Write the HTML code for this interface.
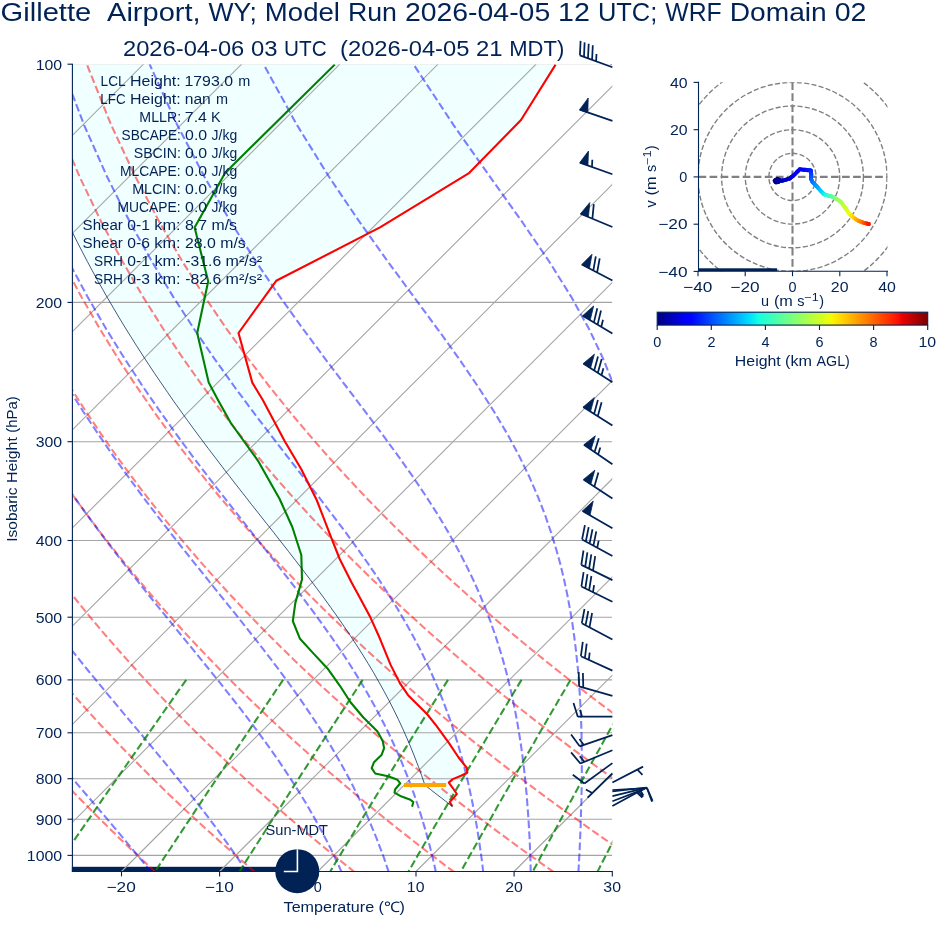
<!DOCTYPE html><html><head><meta charset="utf-8"><title>Skew-T</title><style>html,body{margin:0;padding:0;background:#fff}svg{display:block;will-change:transform}</style></head><body><svg width="936" height="936" viewBox="0 0 936 936" font-family="'Liberation Sans', sans-serif">
<defs><clipPath id="ax"><rect x="72.4" y="64.2" width="539.9" height="807.3"/></clipPath>
<clipPath id="hod"><rect x="698.5" y="82.3" width="189.0" height="189.0"/></clipPath>
<linearGradient id="jet" x1="0" x2="1" y1="0" y2="0"><stop offset="0.0000" stop-color="#000080"/><stop offset="0.0156" stop-color="#000092"/><stop offset="0.0312" stop-color="#0000a4"/><stop offset="0.0469" stop-color="#0000b6"/><stop offset="0.0625" stop-color="#0000c8"/><stop offset="0.0781" stop-color="#0000da"/><stop offset="0.0938" stop-color="#0000ed"/><stop offset="0.1094" stop-color="#0000ff"/><stop offset="0.1250" stop-color="#0001ff"/><stop offset="0.1406" stop-color="#0011ff"/><stop offset="0.1562" stop-color="#0021ff"/><stop offset="0.1719" stop-color="#0031ff"/><stop offset="0.1875" stop-color="#0041ff"/><stop offset="0.2031" stop-color="#0051ff"/><stop offset="0.2188" stop-color="#0061ff"/><stop offset="0.2344" stop-color="#0071ff"/><stop offset="0.2500" stop-color="#0081ff"/><stop offset="0.2656" stop-color="#0091ff"/><stop offset="0.2812" stop-color="#00a1ff"/><stop offset="0.2969" stop-color="#00b1ff"/><stop offset="0.3125" stop-color="#00c1ff"/><stop offset="0.3281" stop-color="#00d1ff"/><stop offset="0.3438" stop-color="#00e1fb"/><stop offset="0.3594" stop-color="#09f1ee"/><stop offset="0.3750" stop-color="#16ffe1"/><stop offset="0.3906" stop-color="#23ffd4"/><stop offset="0.4062" stop-color="#30ffc7"/><stop offset="0.4219" stop-color="#3cffba"/><stop offset="0.4375" stop-color="#49ffad"/><stop offset="0.4531" stop-color="#56ffa0"/><stop offset="0.4688" stop-color="#63ff94"/><stop offset="0.4844" stop-color="#70ff87"/><stop offset="0.5000" stop-color="#7dff7a"/><stop offset="0.5156" stop-color="#8aff6d"/><stop offset="0.5312" stop-color="#97ff60"/><stop offset="0.5469" stop-color="#a4ff53"/><stop offset="0.5625" stop-color="#b1ff46"/><stop offset="0.5781" stop-color="#beff39"/><stop offset="0.5938" stop-color="#caff2c"/><stop offset="0.6094" stop-color="#d7ff1f"/><stop offset="0.6250" stop-color="#e4ff13"/><stop offset="0.6406" stop-color="#f1fc06"/><stop offset="0.6562" stop-color="#feed00"/><stop offset="0.6719" stop-color="#ffde00"/><stop offset="0.6875" stop-color="#ffd000"/><stop offset="0.7031" stop-color="#ffc100"/><stop offset="0.7188" stop-color="#ffb200"/><stop offset="0.7344" stop-color="#ffa300"/><stop offset="0.7500" stop-color="#ff9400"/><stop offset="0.7656" stop-color="#ff8600"/><stop offset="0.7812" stop-color="#ff7700"/><stop offset="0.7969" stop-color="#ff6800"/><stop offset="0.8125" stop-color="#ff5900"/><stop offset="0.8281" stop-color="#ff4a00"/><stop offset="0.8438" stop-color="#ff3b00"/><stop offset="0.8594" stop-color="#ff2d00"/><stop offset="0.8750" stop-color="#ff1e00"/><stop offset="0.8906" stop-color="#fa0f00"/><stop offset="0.9062" stop-color="#e80000"/><stop offset="0.9219" stop-color="#d60000"/><stop offset="0.9375" stop-color="#c40000"/><stop offset="0.9531" stop-color="#b20000"/><stop offset="0.9688" stop-color="#9f0000"/><stop offset="0.9844" stop-color="#8d0000"/><stop offset="1.0000" stop-color="#800000"/></linearGradient>
</defs>
<rect width="936" height="936" fill="#ffffff"/>
<rect x="71.9" y="866.8" width="225.4" height="5.2" fill="#002255"/>
<g clip-path="url(#ax)">
<polygon points="6.3,64.6 6.8,66.5 7.4,68.3 8.0,70.2 8.5,72.0 9.1,73.9 9.7,75.8 10.3,77.6 10.9,79.5 11.5,81.3 12.0,83.2 12.6,85.0 13.2,86.9 13.8,88.8 14.5,90.6 15.1,92.5 15.7,94.3 16.3,96.2 16.9,98.1 17.5,99.9 18.2,101.8 18.8,103.6 19.5,105.5 20.1,107.3 20.7,109.2 21.4,111.1 22.0,112.9 22.7,114.8 23.4,116.6 24.0,118.5 24.7,120.4 25.4,122.2 26.0,124.1 26.7,125.9 27.4,127.8 28.1,129.6 28.8,131.5 29.5,133.4 30.2,135.2 30.9,137.1 31.6,138.9 32.3,140.8 33.0,142.7 33.8,144.5 34.5,146.4 35.2,148.2 35.9,150.1 36.7,151.9 37.4,153.8 38.2,155.7 38.9,157.5 39.7,159.4 40.4,161.2 41.2,163.1 41.9,165.0 42.7,166.8 43.5,168.7 44.3,170.5 45.0,172.4 45.8,174.2 46.6,176.1 47.4,178.0 48.2,179.8 49.0,181.7 49.8,183.5 50.6,185.4 51.4,187.3 52.3,189.1 53.1,191.0 53.9,192.8 54.7,194.7 55.6,196.5 56.4,198.4 57.3,200.3 58.1,202.1 58.9,204.0 59.8,205.8 60.7,207.7 61.5,209.6 62.4,211.4 63.3,213.3 64.1,215.1 65.0,217.0 65.9,218.8 66.8,220.7 67.7,222.6 68.6,224.4 69.5,226.3 70.4,228.1 71.3,230.0 72.2,231.9 73.1,233.7 74.1,235.6 75.0,237.4 75.9,239.3 76.9,241.1 77.8,243.0 78.7,244.9 79.7,246.7 80.6,248.6 81.6,250.4 82.5,252.3 83.5,254.2 84.5,256.0 85.5,257.9 86.4,259.7 87.4,261.6 88.4,263.4 89.4,265.3 90.4,267.2 91.4,269.0 92.4,270.9 93.4,272.7 94.4,274.6 95.5,276.5 96.5,278.3 97.5,280.2 98.5,282.0 99.6,283.9 100.6,285.7 101.6,287.6 102.7,289.5 103.7,291.3 104.8,293.2 105.9,295.0 106.9,296.9 108.0,298.8 109.1,300.6 110.2,302.5 111.2,304.3 112.3,306.2 113.4,308.0 114.5,309.9 115.6,311.8 116.7,313.6 117.8,315.5 118.9,317.3 120.1,319.2 121.2,321.1 122.3,322.9 123.4,324.8 124.6,326.6 125.7,328.5 126.9,330.4 128.0,332.2 129.2,334.1 130.3,335.9 131.5,337.8 132.7,339.6 133.8,341.5 135.0,343.4 136.2,345.2 137.4,347.1 138.6,348.9 139.8,350.8 141.0,352.7 142.1,354.5 143.4,356.4 144.6,358.2 145.8,360.1 147.0,361.9 148.2,363.8 149.5,365.7 150.7,367.5 151.9,369.4 153.2,371.2 154.4,373.1 155.7,375.0 156.9,376.8 158.2,378.7 159.4,380.5 160.7,382.4 162.0,384.2 163.2,386.1 164.5,388.0 165.8,389.8 167.1,391.7 168.4,393.5 169.7,395.4 171.0,397.3 172.3,399.1 173.6,401.0 174.9,402.8 176.2,404.7 177.5,406.5 178.9,408.4 180.2,410.3 181.5,412.1 182.8,414.0 184.2,415.8 185.5,417.7 186.9,419.6 188.2,421.4 189.6,423.3 190.9,425.1 192.3,427.0 193.6,428.8 195.0,430.7 196.4,432.6 197.8,434.4 199.1,436.3 200.5,438.1 201.9,440.0 203.3,441.9 204.7,443.7 206.1,445.6 207.5,447.4 208.9,449.3 210.3,451.1 211.7,453.0 213.1,454.9 214.5,456.7 215.9,458.6 217.3,460.4 218.8,462.3 220.2,464.2 221.6,466.0 223.0,467.9 224.5,469.7 225.9,471.6 227.3,473.4 228.8,475.3 230.2,477.2 231.6,479.0 233.1,480.9 234.5,482.7 236.0,484.6 237.4,486.5 238.9,488.3 240.3,490.2 241.8,492.0 243.2,493.9 244.7,495.7 246.2,497.6 247.6,499.5 249.1,501.3 250.5,503.2 252.0,505.0 253.5,506.9 254.9,508.8 256.4,510.6 257.9,512.5 259.3,514.3 260.8,516.2 262.3,518.0 263.7,519.9 265.2,521.8 266.7,523.6 268.1,525.5 269.6,527.3 271.1,529.2 272.5,531.1 274.0,532.9 275.5,534.8 276.9,536.6 278.4,538.5 279.8,540.3 281.3,542.2 282.8,544.1 284.2,545.9 285.7,547.8 287.1,549.6 288.6,551.5 290.0,553.4 291.5,555.2 292.9,557.1 294.3,558.9 295.8,560.8 297.2,562.7 298.7,564.5 300.1,566.4 301.5,568.2 303.0,570.1 304.4,571.9 305.8,573.8 307.2,575.7 308.6,577.5 310.0,579.4 311.4,581.2 312.8,583.1 314.2,585.0 315.6,586.8 317.0,588.7 318.4,590.5 319.8,592.4 321.1,594.2 322.5,596.1 323.9,598.0 325.2,599.8 326.6,601.7 327.9,603.5 329.3,605.4 330.6,607.3 332.0,609.1 333.3,611.0 334.6,612.8 335.9,614.7 337.2,616.5 338.5,618.4 339.8,620.3 341.1,622.1 342.4,624.0 343.7,625.8 345.0,627.7 346.2,629.6 347.5,631.4 348.7,633.3 350.0,635.1 351.2,637.0 352.4,638.8 353.7,640.7 354.9,642.6 356.1,644.4 357.3,646.3 358.5,648.1 359.7,650.0 360.8,651.9 362.0,653.7 363.2,655.6 364.3,657.4 365.5,659.3 366.6,661.1 367.8,663.0 368.9,664.9 370.0,666.7 371.1,668.6 372.2,670.4 373.3,672.3 374.4,674.2 375.5,676.0 376.6,677.9 377.6,679.7 378.7,681.6 379.7,683.4 380.8,685.3 381.8,687.2 382.8,689.0 383.8,690.9 384.8,692.7 385.8,694.6 386.8,696.5 387.8,698.3 388.8,700.2 389.7,702.0 390.7,703.9 391.6,705.7 392.6,707.6 393.5,709.5 394.5,711.3 395.4,713.2 396.3,715.0 397.2,716.9 398.1,718.8 399.0,720.6 399.8,722.5 400.7,724.3 401.6,726.2 402.4,728.0 403.3,729.9 404.1,731.8 404.9,733.6 405.7,735.5 406.6,737.3 407.4,739.2 408.2,741.1 408.9,742.9 409.7,744.8 410.5,746.6 411.3,748.5 412.0,750.3 412.8,752.2 413.5,754.1 414.3,755.9 415.0,757.8 415.7,759.6 416.4,761.5 417.1,763.4 417.8,765.2 418.5,767.1 419.2,768.9 419.9,770.8 420.6,772.6 421.2,774.5 421.9,776.4 422.5,778.2 423.2,780.1 423.8,781.9 424.5,783.8 425.7,785.7 428.1,787.5 430.4,789.4 432.8,791.2 435.1,793.1 437.5,794.9 439.9,796.8 442.3,798.7 444.7,800.5 447.1,802.4 449.5,804.2 451.9,806.1 452.3,806.1 451.1,804.2 449.9,802.4 451.1,800.5 452.8,798.7 454.5,796.8 456.0,794.9 456.2,793.1 455.0,791.2 453.7,789.4 452.4,787.5 451.1,785.7 449.7,783.8 449.6,781.9 451.7,780.1 455.0,778.2 459.6,776.4 463.7,774.5 467.3,772.6 467.1,770.8 467.0,768.9 466.2,767.1 464.7,765.2 463.2,763.4 461.8,761.5 460.3,759.6 458.8,757.8 457.5,755.9 456.3,754.1 455.1,752.2 453.8,750.3 452.6,748.5 451.4,746.6 450.1,744.8 448.8,742.9 447.5,741.1 446.1,739.2 444.8,737.3 443.4,735.5 442.1,733.6 440.7,731.8 439.4,729.9 438.0,728.0 436.7,726.2 435.2,724.3 433.7,722.5 432.3,720.6 430.8,718.8 429.3,716.9 427.8,715.0 426.2,713.2 424.3,711.3 422.4,709.5 420.6,707.6 418.7,705.7 416.8,703.9 415.0,702.0 413.1,700.2 411.2,698.3 409.4,696.5 407.7,694.6 406.4,692.7 405.1,690.9 403.9,689.0 402.6,687.2 401.3,685.3 400.0,683.4 399.1,681.6 398.1,679.7 397.2,677.9 396.3,676.0 395.3,674.2 394.4,672.3 393.4,670.4 392.5,668.6 391.6,666.7 390.6,664.9 389.9,663.0 389.1,661.1 388.3,659.3 387.6,657.4 386.8,655.6 386.1,653.7 385.3,651.9 384.6,650.0 383.8,648.1 383.0,646.3 382.3,644.4 381.5,642.6 380.8,640.7 380.0,638.8 379.2,637.0 378.4,635.1 377.5,633.3 376.7,631.4 375.9,629.6 375.0,627.7 374.2,625.8 373.4,624.0 372.5,622.1 371.7,620.3 370.9,618.4 369.9,616.5 368.9,614.7 368.0,612.8 367.0,611.0 366.0,609.1 365.0,607.3 364.0,605.4 363.0,603.5 362.0,601.7 361.0,599.8 360.0,598.0 359.0,596.1 358.0,594.2 357.0,592.4 355.9,590.5 354.9,588.7 353.9,586.8 352.9,585.0 351.9,583.1 350.9,581.2 350.0,579.4 349.0,577.5 348.1,575.7 347.2,573.8 346.2,571.9 345.3,570.1 344.4,568.2 343.4,566.4 342.5,564.5 341.5,562.7 340.6,560.8 339.7,558.9 338.9,557.1 338.2,555.2 337.4,553.4 336.7,551.5 336.0,549.6 335.2,547.8 334.5,545.9 333.7,544.1 333.0,542.2 332.3,540.3 331.5,538.5 330.8,536.6 330.1,534.8 329.4,532.9 328.7,531.1 328.0,529.2 327.2,527.3 326.5,525.5 325.8,523.6 325.1,521.8 324.4,519.9 323.7,518.0 322.9,516.2 322.2,514.3 321.5,512.5 320.8,510.6 320.1,508.8 319.4,506.9 318.6,505.0 317.9,503.2 317.2,501.3 316.4,499.5 315.5,497.6 314.6,495.7 313.6,493.9 312.7,492.0 311.8,490.2 310.9,488.3 309.9,486.5 309.0,484.6 308.1,482.7 307.1,480.9 306.2,479.0 305.3,477.2 304.4,475.3 303.4,473.4 302.5,471.6 301.6,469.7 300.5,467.9 299.4,466.0 298.3,464.2 297.2,462.3 296.1,460.4 295.0,458.6 293.9,456.7 292.8,454.9 291.7,453.0 290.6,451.1 289.5,449.3 288.4,447.4 287.3,445.6 286.2,443.7 285.1,441.9 284.1,440.0 283.1,438.1 282.1,436.3 281.1,434.4 280.1,432.6 279.1,430.7 278.1,428.8 277.1,427.0 276.2,425.1 275.2,423.3 274.2,421.4 273.2,419.6 272.2,417.7 271.2,415.8 270.2,414.0 269.2,412.1 268.3,410.3 267.3,408.4 266.3,406.5 265.3,404.7 264.3,402.8 263.3,401.0 262.3,399.1 261.1,397.3 260.0,395.4 258.9,393.5 257.8,391.7 256.7,389.8 255.5,388.0 254.4,386.1 253.3,384.2 252.2,382.4 251.7,380.5 251.2,378.7 250.7,376.8 250.2,375.0 249.7,373.1 249.1,371.2 248.6,369.4 248.1,367.5 247.6,365.7 247.1,363.8 246.6,361.9 246.0,360.1 245.5,358.2 245.0,356.4 244.5,354.5 244.0,352.7 243.5,350.8 242.9,348.9 242.4,347.1 241.9,345.2 241.4,343.4 240.9,341.5 240.3,339.6 239.8,337.8 239.3,335.9 238.8,334.1 239.1,332.2 240.4,330.4 241.8,328.5 243.1,326.6 244.4,324.8 245.8,322.9 247.1,321.1 248.5,319.2 249.8,317.3 251.2,315.5 252.5,313.6 253.8,311.8 255.2,309.9 256.5,308.0 257.9,306.2 259.2,304.3 260.5,302.5 261.9,300.6 263.2,298.8 264.6,296.9 265.9,295.0 267.3,293.2 268.6,291.3 269.9,289.5 271.3,287.6 272.6,285.7 274.0,283.9 275.3,282.0 277.4,280.2 281.0,278.3 284.6,276.5 288.3,274.6 291.9,272.7 295.5,270.9 299.1,269.0 302.7,267.2 306.3,265.3 309.9,263.4 313.5,261.6 317.2,259.7 320.8,257.9 324.4,256.0 328.0,254.2 331.6,252.3 335.2,250.4 338.8,248.6 342.4,246.7 346.1,244.9 349.7,243.0 353.3,241.1 356.9,239.3 360.5,237.4 364.1,235.6 367.7,233.7 371.3,231.9 375.0,230.0 378.6,228.1 381.8,226.3 384.9,224.4 387.9,222.6 391.0,220.7 394.0,218.8 397.1,217.0 400.1,215.1 403.2,213.3 406.2,211.4 409.3,209.6 412.3,207.7 415.4,205.8 418.4,204.0 421.5,202.1 424.5,200.3 427.6,198.4 430.6,196.5 433.7,194.7 436.7,192.8 439.8,191.0 442.8,189.1 445.9,187.3 448.9,185.4 452.0,183.5 455.0,181.7 458.1,179.8 461.1,178.0 464.2,176.1 467.2,174.2 469.6,172.4 471.4,170.5 473.2,168.7 475.1,166.8 476.9,165.0 478.7,163.1 480.5,161.2 482.4,159.4 484.2,157.5 486.0,155.7 487.8,153.8 489.7,151.9 491.5,150.1 493.3,148.2 495.1,146.4 496.9,144.5 498.8,142.7 500.6,140.8 502.4,138.9 504.2,137.1 506.1,135.2 507.9,133.4 509.7,131.5 511.5,129.6 513.4,127.8 515.2,125.9 517.0,124.1 518.8,122.2 520.7,120.4 521.9,118.5 523.1,116.6 524.3,114.8 525.4,112.9 526.6,111.1 527.7,109.2 528.9,107.3 530.1,105.5 531.2,103.6 532.4,101.8 533.5,99.9 534.7,98.1 535.9,96.2 537.0,94.3 538.2,92.5 539.4,90.6 540.5,88.8 541.7,86.9 542.8,85.0 544.0,83.2 545.2,81.3 546.3,79.5 547.5,77.6 548.6,75.8 549.8,73.9 551.0,72.0 552.1,70.2 553.3,68.3 554.4,66.5 555.6,64.6" fill="#f0ffff"/>
<line x1="72.4" x2="612.3" y1="64.2" y2="64.2" stroke="#a4a4a4" stroke-width="1.1" stroke-opacity="0.3"/>
<line x1="72.4" x2="612.3" y1="302.4" y2="302.4" stroke="#a4a4a4" stroke-width="1.1"/>
<line x1="72.4" x2="612.3" y1="441.7" y2="441.7" stroke="#a4a4a4" stroke-width="1.1"/>
<line x1="72.4" x2="612.3" y1="540.5" y2="540.5" stroke="#a4a4a4" stroke-width="1.1"/>
<line x1="72.4" x2="612.3" y1="617.2" y2="617.2" stroke="#a4a4a4" stroke-width="1.1"/>
<line x1="72.4" x2="612.3" y1="679.9" y2="679.9" stroke="#a4a4a4" stroke-width="1.1"/>
<line x1="72.4" x2="612.3" y1="732.8" y2="732.8" stroke="#a4a4a4" stroke-width="1.1"/>
<line x1="72.4" x2="612.3" y1="778.7" y2="778.7" stroke="#a4a4a4" stroke-width="1.1"/>
<line x1="72.4" x2="612.3" y1="819.2" y2="819.2" stroke="#a4a4a4" stroke-width="1.1"/>
<line x1="72.4" x2="612.3" y1="855.4" y2="855.4" stroke="#a4a4a4" stroke-width="1.1"/>
<line x1="-860.2" y1="871.5" x2="-52.9" y2="64.2" stroke="#a4a4a4" stroke-width="1.1"/>
<line x1="-762.0" y1="871.5" x2="45.3" y2="64.2" stroke="#a4a4a4" stroke-width="1.1"/>
<line x1="-663.8" y1="871.5" x2="143.5" y2="64.2" stroke="#a4a4a4" stroke-width="1.1"/>
<line x1="-565.7" y1="871.5" x2="241.6" y2="64.2" stroke="#a4a4a4" stroke-width="1.1"/>
<line x1="-467.5" y1="871.5" x2="339.8" y2="64.2" stroke="#a4a4a4" stroke-width="1.1"/>
<line x1="-369.3" y1="871.5" x2="438.0" y2="64.2" stroke="#a4a4a4" stroke-width="1.1"/>
<line x1="-271.2" y1="871.5" x2="536.1" y2="64.2" stroke="#a4a4a4" stroke-width="1.1"/>
<line x1="-173.0" y1="871.5" x2="634.3" y2="64.2" stroke="#a4a4a4" stroke-width="1.1"/>
<line x1="-74.8" y1="871.5" x2="732.5" y2="64.2" stroke="#a4a4a4" stroke-width="1.1"/>
<line x1="23.3" y1="871.5" x2="830.6" y2="64.2" stroke="#a4a4a4" stroke-width="1.1"/>
<line x1="121.5" y1="871.5" x2="928.8" y2="64.2" stroke="#a4a4a4" stroke-width="1.1"/>
<line x1="219.6" y1="871.5" x2="1026.9" y2="64.2" stroke="#a4a4a4" stroke-width="1.1"/>
<line x1="317.8" y1="871.5" x2="1125.1" y2="64.2" stroke="#a4a4a4" stroke-width="1.1"/>
<line x1="416.0" y1="871.5" x2="1223.3" y2="64.2" stroke="#a4a4a4" stroke-width="1.1"/>
<line x1="514.1" y1="871.5" x2="1321.4" y2="64.2" stroke="#a4a4a4" stroke-width="1.1"/>
<line x1="612.3" y1="871.5" x2="1419.6" y2="64.2" stroke="#a4a4a4" stroke-width="1.1"/>
<polyline points="-43.4,872.2 -49.3,865.8 -55.3,859.2 -61.3,852.6 -67.3,845.8 -73.4,838.9 -79.6,831.8 -85.8,824.6 -92.1,817.2 -98.4,809.7 -104.7,802.0 -111.1,794.2 -117.6,786.1 -124.1,777.8 -130.7,769.4 -137.3,760.7 -144.0,751.8 -150.8,742.7 -157.6,733.3 -164.4,723.7 -171.4,713.8 -178.4,703.6 -185.4,693.1 -192.5,682.2 -199.7,671.0 -206.9,659.4 -214.2,647.4 -221.6,635.0 -229.0,622.1 -236.5,608.7 -244.0,594.8 -251.6,580.2 -259.3,565.1 -267.0,549.2 -274.7,532.6 -282.5,515.1 -290.3,496.7 -298.1,477.2 -305.9,456.6 -313.6,434.6 -321.3,411.2 -328.9,386.0 -336.4,358.8 -343.6,329.3 -350.4,297.1 -356.8,261.5 -362.4,221.7 -367.1,176.8 -370.1,125.1 -370.8,64.2" fill="none" stroke="#ff0000" stroke-opacity="0.5" stroke-width="2.08" stroke-dasharray="7.71 3.33"/>
<polyline points="56.2,872.2 49.7,865.8 43.2,859.2 36.7,852.6 30.0,845.8 23.4,838.9 16.7,831.8 9.9,824.6 3.0,817.2 -3.9,809.7 -10.8,802.0 -17.8,794.2 -24.9,786.1 -32.1,777.8 -39.3,769.4 -46.6,760.7 -54.0,751.8 -61.4,742.7 -68.9,733.3 -76.5,723.7 -84.1,713.8 -91.8,703.6 -99.6,693.1 -107.5,682.2 -115.5,671.0 -123.5,659.4 -131.7,647.4 -139.9,635.0 -148.2,622.1 -156.5,608.7 -165.0,594.8 -173.6,580.2 -182.2,565.1 -190.9,549.2 -199.7,532.6 -208.5,515.1 -217.4,496.7 -226.4,477.2 -235.4,456.6 -244.5,434.6 -253.5,411.2 -262.5,386.0 -271.4,358.8 -280.2,329.3 -288.7,297.1 -296.9,261.5 -304.5,221.7 -311.2,176.8 -316.7,125.1 -320.0,64.2" fill="none" stroke="#ff0000" stroke-opacity="0.5" stroke-width="2.08" stroke-dasharray="7.71 3.33"/>
<polyline points="155.7,872.2 148.7,865.8 141.7,859.2 134.6,852.6 127.4,845.8 120.2,838.9 112.9,831.8 105.6,824.6 98.1,817.2 90.6,809.7 83.1,802.0 75.4,794.2 67.7,786.1 59.9,777.8 52.1,769.4 44.1,760.7 36.1,751.8 28.0,742.7 19.8,733.3 11.5,723.7 3.2,713.8 -5.3,703.6 -13.9,693.1 -22.5,682.2 -31.3,671.0 -40.1,659.4 -49.1,647.4 -58.1,635.0 -67.3,622.1 -76.6,608.7 -86.0,594.8 -95.5,580.2 -105.1,565.1 -114.8,549.2 -124.6,532.6 -134.6,515.1 -144.6,496.7 -154.7,477.2 -165.0,456.6 -175.3,434.6 -185.7,411.2 -196.1,386.0 -206.5,358.8 -216.8,329.3 -227.0,297.1 -237.0,261.5 -246.5,221.7 -255.4,176.8 -263.2,125.1 -269.1,64.2" fill="none" stroke="#ff0000" stroke-opacity="0.5" stroke-width="2.08" stroke-dasharray="7.71 3.33"/>
<polyline points="255.2,872.2 247.7,865.8 240.2,859.2 232.5,852.6 224.8,845.8 217.0,838.9 209.2,831.8 201.2,824.6 193.2,817.2 185.1,809.7 177.0,802.0 168.7,794.2 160.4,786.1 152.0,777.8 143.5,769.4 134.9,760.7 126.2,751.8 117.4,742.7 108.5,733.3 99.5,723.7 90.4,713.8 81.2,703.6 71.9,693.1 62.5,682.2 52.9,671.0 43.3,659.4 33.5,647.4 23.6,635.0 13.5,622.1 3.4,608.7 -6.9,594.8 -17.4,580.2 -28.0,565.1 -38.7,549.2 -49.6,532.6 -60.6,515.1 -71.8,496.7 -83.1,477.2 -94.5,456.6 -106.1,434.6 -117.8,411.2 -129.6,386.0 -141.5,358.8 -153.4,329.3 -165.3,297.1 -177.1,261.5 -188.6,221.7 -199.6,176.8 -209.7,125.1 -218.3,64.2" fill="none" stroke="#ff0000" stroke-opacity="0.5" stroke-width="2.08" stroke-dasharray="7.71 3.33"/>
<polyline points="354.8,872.2 346.7,865.8 338.6,859.2 330.5,852.6 322.2,845.8 313.8,838.9 305.4,831.8 296.9,824.6 288.3,817.2 279.7,809.7 270.9,802.0 262.0,794.2 253.1,786.1 244.0,777.8 234.9,769.4 225.6,760.7 216.2,751.8 206.8,742.7 197.2,733.3 187.5,723.7 177.7,713.8 167.7,703.6 157.7,693.1 147.5,682.2 137.1,671.0 126.7,659.4 116.1,647.4 105.3,635.0 94.4,622.1 83.3,608.7 72.1,594.8 60.7,580.2 49.1,565.1 37.4,549.2 25.5,532.6 13.4,515.1 1.1,496.7 -11.4,477.2 -24.1,456.6 -36.9,434.6 -50.0,411.2 -63.2,386.0 -76.5,358.8 -90.0,329.3 -103.6,297.1 -117.2,261.5 -130.6,221.7 -143.7,176.8 -156.2,125.1 -167.4,64.2" fill="none" stroke="#ff0000" stroke-opacity="0.5" stroke-width="2.08" stroke-dasharray="7.71 3.33"/>
<polyline points="454.3,872.2 445.8,865.8 437.1,859.2 428.4,852.6 419.6,845.8 410.7,838.9 401.7,831.8 392.6,824.6 383.4,817.2 374.2,809.7 364.8,802.0 355.3,794.2 345.7,786.1 336.0,777.8 326.2,769.4 316.3,760.7 306.3,751.8 296.2,742.7 285.9,733.3 275.5,723.7 264.9,713.8 254.3,703.6 243.4,693.1 232.5,682.2 221.4,671.0 210.1,659.4 198.6,647.4 187.0,635.0 175.3,622.1 163.3,608.7 151.1,594.8 138.8,580.2 126.3,565.1 113.5,549.2 100.5,532.6 87.4,515.1 73.9,496.7 60.3,477.2 46.4,456.6 32.3,434.6 17.9,411.2 3.3,386.0 -11.6,358.8 -26.6,329.3 -41.9,297.1 -57.3,261.5 -72.6,221.7 -87.9,176.8 -102.7,125.1 -116.6,64.2" fill="none" stroke="#ff0000" stroke-opacity="0.5" stroke-width="2.08" stroke-dasharray="7.71 3.33"/>
<polyline points="553.9,872.2 544.8,865.8 535.6,859.2 526.3,852.6 517.0,845.8 507.5,838.9 497.9,831.8 488.3,824.6 478.5,817.2 468.7,809.7 458.7,802.0 448.6,794.2 438.4,786.1 428.1,777.8 417.6,769.4 407.1,760.7 396.4,751.8 385.5,742.7 374.6,733.3 363.5,723.7 352.2,713.8 340.8,703.6 329.2,693.1 317.5,682.2 305.6,671.0 293.5,659.4 281.2,647.4 268.8,635.0 256.1,622.1 243.3,608.7 230.2,594.8 216.9,580.2 203.4,565.1 189.6,549.2 175.6,532.6 161.3,515.1 146.8,496.7 132.0,477.2 116.9,456.6 101.5,434.6 85.7,411.2 69.7,386.0 53.4,358.8 36.7,329.3 19.8,297.1 2.7,261.5 -14.7,221.7 -32.1,176.8 -49.2,125.1 -65.8,64.2" fill="none" stroke="#ff0000" stroke-opacity="0.5" stroke-width="2.08" stroke-dasharray="7.71 3.33"/>
<polyline points="653.4,872.2 643.8,865.8 634.1,859.2 624.3,852.6 614.3,845.8 604.3,838.9 594.2,831.8 584.0,824.6 573.6,817.2 563.2,809.7 552.6,802.0 541.9,794.2 531.1,786.1 520.1,777.8 509.0,769.4 497.8,760.7 486.4,751.8 474.9,742.7 463.3,733.3 451.4,723.7 439.5,713.8 427.3,703.6 415.0,693.1 402.5,682.2 389.8,671.0 376.9,659.4 363.8,647.4 350.5,635.0 337.0,622.1 323.2,608.7 309.2,594.8 295.0,580.2 280.5,565.1 265.7,549.2 250.6,532.6 235.3,515.1 219.6,496.7 203.6,477.2 187.3,456.6 170.6,434.6 153.6,411.2 136.2,386.0 118.3,358.8 100.1,329.3 81.5,297.1 62.6,261.5 43.3,221.7 23.8,176.8 4.2,125.1 -14.9,64.2" fill="none" stroke="#ff0000" stroke-opacity="0.5" stroke-width="2.08" stroke-dasharray="7.71 3.33"/>
<polyline points="753.0,872.2 742.8,865.8 732.5,859.2 722.2,852.6 711.7,845.8 701.1,838.9 690.5,831.8 679.6,824.6 668.7,817.2 657.7,809.7 646.5,802.0 635.2,794.2 623.7,786.1 612.1,777.8 600.4,769.4 588.5,760.7 576.5,751.8 564.3,742.7 551.9,733.3 539.4,723.7 526.7,713.8 513.8,703.6 500.7,693.1 487.5,682.2 474.0,671.0 460.3,659.4 446.4,647.4 432.2,635.0 417.8,622.1 403.2,608.7 388.3,594.8 373.1,580.2 357.6,565.1 341.8,549.2 325.7,532.6 309.3,515.1 292.5,496.7 275.3,477.2 257.8,456.6 239.8,434.6 221.4,411.2 202.6,386.0 183.3,358.8 163.5,329.3 143.2,297.1 122.5,261.5 101.2,221.7 79.6,176.8 57.7,125.1 35.9,64.2" fill="none" stroke="#ff0000" stroke-opacity="0.5" stroke-width="2.08" stroke-dasharray="7.71 3.33"/>
<polyline points="852.5,872.2 841.8,865.8 831.0,859.2 820.1,852.6 809.1,845.8 798.0,838.9 786.7,831.8 775.3,824.6 763.8,817.2 752.2,809.7 740.4,802.0 728.5,794.2 716.4,786.1 704.2,777.8 691.8,769.4 679.3,760.7 666.6,751.8 653.7,742.7 640.6,733.3 627.4,723.7 614.0,713.8 600.3,703.6 586.5,693.1 572.5,682.2 558.2,671.0 543.7,659.4 528.9,647.4 513.9,635.0 498.7,622.1 483.1,608.7 467.3,594.8 451.2,580.2 434.7,565.1 417.9,549.2 400.8,532.6 383.2,515.1 365.3,496.7 347.0,477.2 328.2,456.6 309.0,434.6 289.3,411.2 269.0,386.0 248.3,358.8 226.9,329.3 204.9,297.1 182.4,261.5 159.2,221.7 135.4,176.8 111.2,125.1 86.8,64.2" fill="none" stroke="#ff0000" stroke-opacity="0.5" stroke-width="2.08" stroke-dasharray="7.71 3.33"/>
<polyline points="-44.3,872.2 -49.8,865.8 -55.5,859.2 -61.2,852.6 -66.9,845.8 -72.8,838.9 -78.7,831.8 -84.7,824.6 -90.8,817.2 -96.9,809.7 -103.1,802.0 -109.4,794.2 -115.7,786.1 -122.2,777.8 -128.7,769.4 -135.2,760.7 -141.8,751.8 -148.5,742.7 -155.3,733.3 -162.1,723.7 -169.0,713.8 -176.0,703.6 -183.1,693.1 -190.2,682.2 -197.3,671.0 -204.6,659.4 -211.9,647.4 -219.3,635.0 -226.7,622.1 -234.2,608.7 -241.8,594.8 -249.4,580.2 -257.1,565.1 -264.8,549.2 -272.6,532.6 -280.4,515.1 -288.2,496.7 -296.0,477.2 -303.9,456.6 -311.7,434.6 -319.4,411.2 -327.0,386.0 -334.5,358.8 -341.7,329.3 -348.6,297.1 -355.1,261.5 -360.8,221.7 -365.5,176.8 -368.6,125.1 -369.3,64.2" fill="none" stroke="#0000ff" stroke-opacity="0.5" stroke-width="2.08" stroke-dasharray="7.71 3.33"/>
<polyline points="54.0,872.2 48.4,865.8 42.8,859.2 37.0,852.6 31.1,845.8 25.0,838.9 18.9,831.8 12.7,824.6 6.3,817.2 -0.1,809.7 -6.7,802.0 -13.3,794.2 -20.1,786.1 -27.0,777.8 -33.9,769.4 -41.0,760.7 -48.2,751.8 -55.5,742.7 -62.8,733.3 -70.3,723.7 -77.9,713.8 -85.5,703.6 -93.3,693.1 -101.2,682.2 -109.1,671.0 -117.2,659.4 -125.3,647.4 -133.5,635.0 -141.9,622.1 -150.3,608.7 -158.8,594.8 -167.4,580.2 -176.1,565.1 -184.9,549.2 -193.8,532.6 -202.7,515.1 -211.7,496.7 -220.8,477.2 -229.9,456.6 -239.0,434.6 -248.1,411.2 -257.2,386.0 -266.3,358.8 -275.2,329.3 -283.8,297.1 -292.1,261.5 -299.9,221.7 -306.8,176.8 -312.4,125.1 -316.0,64.2" fill="none" stroke="#0000ff" stroke-opacity="0.5" stroke-width="2.08" stroke-dasharray="7.71 3.33"/>
<polyline points="151.2,872.2 146.0,865.8 140.7,859.2 135.3,852.6 129.6,845.8 123.9,838.9 117.9,831.8 111.9,824.6 105.6,817.2 99.2,809.7 92.6,802.0 85.9,794.2 79.0,786.1 72.0,777.8 64.8,769.4 57.4,760.7 49.9,751.8 42.2,742.7 34.4,733.3 26.5,723.7 18.4,713.8 10.1,703.6 1.7,693.1 -6.9,682.2 -15.5,671.0 -24.4,659.4 -33.3,647.4 -42.4,635.0 -51.7,622.1 -61.0,608.7 -70.5,594.8 -80.1,580.2 -89.9,565.1 -99.8,549.2 -109.8,532.6 -119.9,515.1 -130.2,496.7 -140.6,477.2 -151.0,456.6 -161.6,434.6 -172.2,411.2 -182.9,386.0 -193.6,358.8 -204.2,329.3 -214.8,297.1 -225.1,261.5 -235.0,221.7 -244.3,176.8 -252.6,125.1 -259.1,64.2" fill="none" stroke="#0000ff" stroke-opacity="0.5" stroke-width="2.08" stroke-dasharray="7.71 3.33"/>
<polyline points="247.0,872.2 242.8,865.8 238.4,859.2 233.8,852.6 229.1,845.8 224.1,838.9 219.0,831.8 213.7,824.6 208.1,817.2 202.4,809.7 196.4,802.0 190.2,794.2 183.8,786.1 177.2,777.8 170.3,769.4 163.2,760.7 155.8,751.8 148.2,742.7 140.4,733.3 132.3,723.7 124.0,713.8 115.5,703.6 106.7,693.1 97.8,682.2 88.5,671.0 79.1,659.4 69.4,647.4 59.6,635.0 49.5,622.1 39.2,608.7 28.7,594.8 18.0,580.2 7.2,565.1 -3.9,549.2 -15.2,532.6 -26.6,515.1 -38.3,496.7 -50.1,477.2 -62.1,456.6 -74.2,434.6 -86.5,411.2 -99.0,386.0 -111.6,358.8 -124.2,329.3 -136.9,297.1 -149.4,261.5 -161.8,221.7 -173.8,176.8 -185.0,125.1 -194.8,64.2" fill="none" stroke="#0000ff" stroke-opacity="0.5" stroke-width="2.08" stroke-dasharray="7.71 3.33"/>
<polyline points="341.6,872.2 338.8,865.8 335.7,859.2 332.6,852.6 329.2,845.8 325.7,838.9 322.0,831.8 318.1,824.6 314.0,817.2 309.7,809.7 305.2,802.0 300.4,794.2 295.3,786.1 290.0,777.8 284.4,769.4 278.6,760.7 272.4,751.8 265.8,742.7 259.0,733.3 251.8,723.7 244.3,713.8 236.4,703.6 228.1,693.1 219.5,682.2 210.4,671.0 201.0,659.4 191.3,647.4 181.1,635.0 170.6,622.1 159.7,608.7 148.5,594.8 136.9,580.2 125.0,565.1 112.7,549.2 100.1,532.6 87.2,515.1 74.0,496.7 60.6,477.2 46.8,456.6 32.7,434.6 18.4,411.2 3.8,386.0 -11.0,358.8 -26.1,329.3 -41.4,297.1 -56.7,261.5 -72.2,221.7 -87.4,176.8 -102.3,125.1 -116.2,64.2" fill="none" stroke="#0000ff" stroke-opacity="0.5" stroke-width="2.08" stroke-dasharray="7.71 3.33"/>
<polyline points="388.8,872.2 386.6,865.8 384.4,859.2 382.0,852.6 379.4,845.8 376.8,838.9 373.9,831.8 370.9,824.6 367.8,817.2 364.4,809.7 360.8,802.0 357.0,794.2 353.0,786.1 348.7,777.8 344.2,769.4 339.3,760.7 334.2,751.8 328.8,742.7 323.0,733.3 316.8,723.7 310.2,713.8 303.3,703.6 295.9,693.1 288.1,682.2 279.8,671.0 271.1,659.4 261.8,647.4 252.1,635.0 241.9,622.1 231.2,608.7 219.9,594.8 208.2,580.2 196.1,565.1 183.4,549.2 170.3,532.6 156.8,515.1 142.8,496.7 128.5,477.2 113.7,456.6 98.5,434.6 83.0,411.2 67.1,386.0 50.9,358.8 34.4,329.3 17.5,297.1 0.4,261.5 -16.8,221.7 -34.1,176.8 -51.2,125.1 -67.6,64.2" fill="none" stroke="#0000ff" stroke-opacity="0.5" stroke-width="2.08" stroke-dasharray="7.71 3.33"/>
<polyline points="435.9,872.2 434.5,865.8 433.0,859.2 431.4,852.6 429.7,845.8 427.8,838.9 425.9,831.8 423.8,824.6 421.6,817.2 419.2,809.7 416.7,802.0 414.0,794.2 411.1,786.1 408.0,777.8 404.6,769.4 401.1,760.7 397.2,751.8 393.1,742.7 388.7,733.3 383.9,723.7 378.8,713.8 373.2,703.6 367.3,693.1 360.9,682.2 354.0,671.0 346.6,659.4 338.6,647.4 330.0,635.0 320.8,622.1 311.0,608.7 300.6,594.8 289.4,580.2 277.6,565.1 265.1,549.2 251.9,532.6 238.1,515.1 223.6,496.7 208.5,477.2 192.8,456.6 176.6,434.6 159.8,411.2 142.5,386.0 124.7,358.8 106.4,329.3 87.7,297.1 68.6,261.5 49.1,221.7 29.4,176.8 9.7,125.1 -9.8,64.2" fill="none" stroke="#0000ff" stroke-opacity="0.5" stroke-width="2.08" stroke-dasharray="7.71 3.33"/>
<polyline points="483.2,872.2 482.5,865.8 481.7,859.2 480.8,852.6 479.8,845.8 478.8,838.9 477.7,831.8 476.5,824.6 475.2,817.2 473.8,809.7 472.3,802.0 470.6,794.2 468.9,786.1 467.0,777.8 464.9,769.4 462.6,760.7 460.1,751.8 457.5,742.7 454.6,733.3 451.4,723.7 447.9,713.8 444.1,703.6 440.0,693.1 435.4,682.2 430.5,671.0 425.0,659.4 419.1,647.4 412.5,635.0 405.3,622.1 397.5,608.7 388.8,594.8 379.4,580.2 369.1,565.1 357.9,549.2 345.8,532.6 332.6,515.1 318.5,496.7 303.5,477.2 287.4,456.6 270.4,434.6 252.6,411.2 233.9,386.0 214.5,358.8 194.3,329.3 173.4,297.1 151.9,261.5 129.7,221.7 107.1,176.8 84.1,125.1 61.0,64.2" fill="none" stroke="#0000ff" stroke-opacity="0.5" stroke-width="2.08" stroke-dasharray="7.71 3.33"/>
<polyline points="530.7,872.2 530.6,865.8 530.4,859.2 530.1,852.6 529.9,845.8 529.6,838.9 529.2,831.8 528.8,824.6 528.3,817.2 527.8,809.7 527.2,802.0 526.6,794.2 525.8,786.1 525.0,777.8 524.1,769.4 523.0,760.7 521.9,751.8 520.6,742.7 519.1,733.3 517.5,723.7 515.7,713.8 513.6,703.6 511.4,693.1 508.8,682.2 506.0,671.0 502.8,659.4 499.2,647.4 495.2,635.0 490.7,622.1 485.6,608.7 479.9,594.8 473.4,580.2 466.1,565.1 457.8,549.2 448.5,532.6 438.1,515.1 426.3,496.7 413.2,477.2 398.6,456.6 382.5,434.6 364.9,411.2 345.8,386.0 325.2,358.8 303.3,329.3 280.2,297.1 255.9,261.5 230.6,221.7 204.4,176.8 177.3,125.1 149.6,64.2" fill="none" stroke="#0000ff" stroke-opacity="0.5" stroke-width="2.08" stroke-dasharray="7.71 3.33"/>
<polyline points="578.4,872.2 578.8,865.8 579.1,859.2 579.5,852.6 579.8,845.8 580.1,838.9 580.4,831.8 580.7,824.6 580.9,817.2 581.1,809.7 581.4,802.0 581.5,794.2 581.7,786.1 581.8,777.8 581.8,769.4 581.8,760.7 581.8,751.8 581.6,742.7 581.5,733.3 581.2,723.7 580.8,713.8 580.3,703.6 579.7,693.1 579.0,682.2 578.1,671.0 576.9,659.4 575.6,647.4 574.0,635.0 572.2,622.1 569.9,608.7 567.3,594.8 564.2,580.2 560.6,565.1 556.2,549.2 551.1,532.6 545.1,515.1 537.9,496.7 529.5,477.2 519.5,456.6 507.7,434.6 493.8,411.2 477.6,386.0 459.0,358.8 437.8,329.3 414.0,297.1 387.8,261.5 359.4,221.7 329.0,176.8 297.0,125.1 263.5,64.2" fill="none" stroke="#0000ff" stroke-opacity="0.5" stroke-width="2.08" stroke-dasharray="7.71 3.33"/>
<polyline points="626.3,872.2 627.1,865.8 627.9,859.2 628.7,852.6 629.6,845.8 630.4,838.9 631.2,831.8 632.0,824.6 632.9,817.2 633.7,809.7 634.6,802.0 635.4,794.2 636.3,786.1 637.1,777.8 638.0,769.4 638.8,760.7 639.7,751.8 640.5,742.7 641.3,733.3 642.1,723.7 642.9,713.8 643.6,703.6 644.4,693.1 645.0,682.2 645.7,671.0 646.2,659.4 646.7,647.4 647.1,635.0 647.4,622.1 647.5,608.7 647.5,594.8 647.2,580.2 646.8,565.1 646.0,549.2 644.8,532.6 643.2,515.1 641.0,496.7 638.0,477.2 634.1,456.6 629.1,434.6 622.5,411.2 614.1,386.0 603.2,358.8 589.2,329.3 571.4,297.1 549.2,261.5 522.0,221.7 490.0,176.8 453.6,125.1 413.4,64.2" fill="none" stroke="#0000ff" stroke-opacity="0.5" stroke-width="2.08" stroke-dasharray="7.71 3.33"/>
<polyline points="674.5,872.2 675.6,865.8 676.8,859.2 678.0,852.6 679.2,845.8 680.4,838.9 681.7,831.8 683.0,824.6 684.3,817.2 685.6,809.7 686.9,802.0 688.3,794.2 689.7,786.1 691.2,777.8 692.7,769.4 694.2,760.7 695.7,751.8 697.2,742.7 698.8,733.3 700.4,723.7 702.1,713.8 703.8,703.6 705.5,693.1 707.2,682.2 709.0,671.0 710.8,659.4 712.6,647.4 714.4,635.0 716.3,622.1 718.1,608.7 720.0,594.8 721.8,580.2 723.6,565.1 725.4,549.2 727.1,532.6 728.7,515.1 730.2,496.7 731.5,477.2 732.5,456.6 733.1,434.6 733.2,411.2 732.5,386.0 730.8,358.8 727.5,329.3 722.1,297.1 713.5,261.5 700.2,221.7 680.2,176.8 651.0,125.1 610.9,64.2" fill="none" stroke="#0000ff" stroke-opacity="0.5" stroke-width="2.08" stroke-dasharray="7.71 3.33"/>
<polyline points="722.8,872.2 724.3,865.8 725.7,859.2 727.2,852.6 728.7,845.8 730.3,838.9 731.8,831.8 733.5,824.6 735.1,817.2 736.8,809.7 738.6,802.0 740.4,794.2 742.2,786.1 744.1,777.8 746.0,769.4 748.0,760.7 750.0,751.8 752.1,742.7 754.3,733.3 756.5,723.7 758.8,713.8 761.2,703.6 763.6,693.1 766.1,682.2 768.7,671.0 771.3,659.4 774.1,647.4 776.9,635.0 779.8,622.1 782.9,608.7 786.0,594.8 789.3,580.2 792.6,565.1 796.1,549.2 799.7,532.6 803.4,515.1 807.3,496.7 811.3,477.2 815.4,456.6 819.6,434.6 823.9,411.2 828.2,386.0 832.5,358.8 836.7,329.3 840.5,297.1 843.7,261.5 845.7,221.7 845.4,176.8 840.8,125.1 828.0,64.2" fill="none" stroke="#0000ff" stroke-opacity="0.5" stroke-width="2.08" stroke-dasharray="7.71 3.33"/>
<polyline points="771.4,872.2 773.0,865.8 774.7,859.2 776.4,852.6 778.1,845.8 779.9,838.9 781.7,831.8 783.6,824.6 785.5,817.2 787.5,809.7 789.6,802.0 791.6,794.2 793.8,786.1 796.0,777.8 798.3,769.4 800.6,760.7 803.0,751.8 805.5,742.7 808.1,733.3 810.7,723.7 813.5,713.8 816.3,703.6 819.2,693.1 822.3,682.2 825.4,671.0 828.7,659.4 832.1,647.4 835.6,635.0 839.3,622.1 843.1,608.7 847.1,594.8 851.3,580.2 855.6,565.1 860.2,549.2 865.0,532.6 870.1,515.1 875.4,496.7 881.1,477.2 887.1,456.6 893.4,434.6 900.1,411.2 907.3,386.0 915.0,358.8 923.2,329.3 932.0,297.1 941.5,261.5 951.6,221.7 962.4,176.8 973.7,125.1 984.7,64.2" fill="none" stroke="#0000ff" stroke-opacity="0.5" stroke-width="2.08" stroke-dasharray="7.71 3.33"/>
<polyline points="820.1,872.2 821.8,865.8 823.7,859.2 825.5,852.6 827.4,845.8 829.4,838.9 831.4,831.8 833.5,824.6 835.6,817.2 837.8,809.7 840.0,802.0 842.3,794.2 844.7,786.1 847.1,777.8 849.6,769.4 852.2,760.7 854.9,751.8 857.7,742.7 860.5,733.3 863.5,723.7 866.5,713.8 869.7,703.6 873.0,693.1 876.4,682.2 879.9,671.0 883.6,659.4 887.4,647.4 891.4,635.0 895.5,622.1 899.9,608.7 904.5,594.8 909.2,580.2 914.3,565.1 919.5,549.2 925.1,532.6 931.0,515.1 937.3,496.7 943.9,477.2 951.0,456.6 958.6,434.6 966.8,411.2 975.6,386.0 985.1,358.8 995.6,329.3 1007.0,297.1 1019.7,261.5 1033.8,221.7 1049.8,176.8 1068.1,125.1 1089.3,64.2" fill="none" stroke="#0000ff" stroke-opacity="0.5" stroke-width="2.08" stroke-dasharray="7.71 3.33"/>
<polyline points="186.2,679.9 182.5,685.1 178.9,690.2 175.3,695.3 171.8,700.3 168.4,705.2 164.9,710.1 161.6,714.8 158.3,719.6 155.0,724.2 151.8,728.8 148.6,733.3 145.5,737.8 142.4,742.2 139.3,746.6 136.3,750.9 133.3,755.1 130.4,759.3 127.5,763.5 124.6,767.6 121.8,771.6 119.0,775.6 116.3,779.6 113.5,783.5 110.8,787.4 108.2,791.2 105.5,795.0 102.9,798.7 100.4,802.4 97.8,806.1 95.3,809.7 92.8,813.3 90.4,816.9 87.9,820.4 85.5,823.8 83.1,827.3 80.8,830.7 78.4,834.1 76.1,837.4 73.8,840.7 71.6,844.0 69.3,847.2 67.1,850.5 64.9,853.6 62.7,856.8 60.6,859.9 58.4,863.0 56.3,866.1 54.2,869.1 52.1,872.2" fill="none" stroke="#008000" stroke-opacity="0.8" stroke-width="2.08" stroke-dasharray="7.71 3.33"/>
<polyline points="283.1,679.9 279.6,685.1 276.1,690.2 272.7,695.3 269.3,700.3 266.0,705.2 262.7,710.1 259.5,714.8 256.3,719.6 253.2,724.2 250.1,728.8 247.1,733.3 244.1,737.8 241.1,742.2 238.2,746.6 235.3,750.9 232.4,755.1 229.6,759.3 226.8,763.5 224.1,767.6 221.4,771.6 218.7,775.6 216.1,779.6 213.5,783.5 210.9,787.4 208.3,791.2 205.8,795.0 203.3,798.7 200.9,802.4 198.4,806.1 196.0,809.7 193.6,813.3 191.3,816.9 189.0,820.4 186.6,823.8 184.4,827.3 182.1,830.7 179.9,834.1 177.7,837.4 175.5,840.7 173.3,844.0 171.2,847.2 169.0,850.5 166.9,853.6 164.8,856.8 162.8,859.9 160.7,863.0 158.7,866.1 156.7,869.1 154.7,872.2" fill="none" stroke="#008000" stroke-opacity="0.8" stroke-width="2.08" stroke-dasharray="7.71 3.33"/>
<polyline points="362.6,679.9 359.2,685.1 355.9,690.2 352.6,695.3 349.3,700.3 346.1,705.2 343.0,710.1 339.9,714.8 336.8,719.6 333.8,724.2 330.8,728.8 327.9,733.3 325.0,737.8 322.1,742.2 319.3,746.6 316.5,750.9 313.8,755.1 311.1,759.3 308.4,763.5 305.8,767.6 303.1,771.6 300.6,775.6 298.0,779.6 295.5,783.5 293.0,787.4 290.6,791.2 288.2,795.0 285.8,798.7 283.4,802.4 281.1,806.1 278.7,809.7 276.5,813.3 274.2,816.9 271.9,820.4 269.7,823.8 267.5,827.3 265.4,830.7 263.2,834.1 261.1,837.4 259.0,840.7 256.9,844.0 254.9,847.2 252.8,850.5 250.8,853.6 248.8,856.8 246.8,859.9 244.8,863.0 242.9,866.1 241.0,869.1 239.1,872.2" fill="none" stroke="#008000" stroke-opacity="0.8" stroke-width="2.08" stroke-dasharray="7.71 3.33"/>
<polyline points="448.0,679.9 444.7,685.1 441.5,690.2 438.3,695.3 435.2,700.3 432.1,705.2 429.1,710.1 426.1,714.8 423.2,719.6 420.3,724.2 417.5,728.8 414.7,733.3 411.9,737.8 409.2,742.2 406.5,746.6 403.8,750.9 401.2,755.1 398.6,759.3 396.0,763.5 393.5,767.6 391.0,771.6 388.6,775.6 386.1,779.6 383.7,783.5 381.4,787.4 379.0,791.2 376.7,795.0 374.4,798.7 372.1,802.4 369.9,806.1 367.7,809.7 365.5,813.3 363.3,816.9 361.2,820.4 359.1,823.8 357.0,827.3 354.9,830.7 352.9,834.1 350.8,837.4 348.8,840.7 346.8,844.0 344.9,847.2 342.9,850.5 341.0,853.6 339.1,856.8 337.2,859.9 335.3,863.0 333.5,866.1 331.7,869.1 329.8,872.2" fill="none" stroke="#008000" stroke-opacity="0.8" stroke-width="2.08" stroke-dasharray="7.71 3.33"/>
<polyline points="521.5,679.9 518.3,685.1 515.2,690.2 512.2,695.3 509.2,700.3 506.3,705.2 503.3,710.1 500.5,714.8 497.7,719.6 494.9,724.2 492.2,728.8 489.5,733.3 486.8,737.8 484.2,742.2 481.6,746.6 479.0,750.9 476.5,755.1 474.0,759.3 471.6,763.5 469.1,767.6 466.8,771.6 464.4,775.6 462.1,779.6 459.8,783.5 457.5,787.4 455.2,791.2 453.0,795.0 450.8,798.7 448.7,802.4 446.5,806.1 444.4,809.7 442.3,813.3 440.2,816.9 438.2,820.4 436.2,823.8 434.1,827.3 432.2,830.7 430.2,834.1 428.3,837.4 426.3,840.7 424.4,844.0 422.6,847.2 420.7,850.5 418.8,853.6 417.0,856.8 415.2,859.9 413.4,863.0 411.7,866.1 409.9,869.1 408.2,872.2" fill="none" stroke="#008000" stroke-opacity="0.8" stroke-width="2.08" stroke-dasharray="7.71 3.33"/>
<polyline points="570.5,679.9 567.5,685.1 564.5,690.2 561.5,695.3 558.6,700.3 555.7,705.2 552.9,710.1 550.1,714.8 547.4,719.6 544.7,724.2 542.0,728.8 539.4,733.3 536.8,737.8 534.3,742.2 531.8,746.6 529.3,750.9 526.8,755.1 524.4,759.3 522.0,763.5 519.7,767.6 517.4,771.6 515.1,775.6 512.8,779.6 510.6,783.5 508.4,787.4 506.2,791.2 504.0,795.0 501.9,798.7 499.8,802.4 497.7,806.1 495.7,809.7 493.6,813.3 491.6,816.9 489.6,820.4 487.7,823.8 485.7,827.3 483.8,830.7 481.9,834.1 480.0,837.4 478.2,840.7 476.3,844.0 474.5,847.2 472.7,850.5 470.9,853.6 469.1,856.8 467.4,859.9 465.6,863.0 463.9,866.1 462.2,869.1 460.5,872.2" fill="none" stroke="#008000" stroke-opacity="0.8" stroke-width="2.08" stroke-dasharray="7.71 3.33"/>
<polyline points="637.9,679.9 634.9,685.1 632.0,690.2 629.2,695.3 626.4,700.3 623.7,705.2 620.9,710.1 618.3,714.8 615.6,719.6 613.1,724.2 610.5,728.8 608.0,733.3 605.5,737.8 603.1,742.2 600.7,746.6 598.3,750.9 595.9,755.1 593.6,759.3 591.3,763.5 589.1,767.6 586.9,771.6 584.7,775.6 582.5,779.6 580.4,783.5 578.2,787.4 576.2,791.2 574.1,795.0 572.1,798.7 570.0,802.4 568.1,806.1 566.1,809.7 564.1,813.3 562.2,816.9 560.3,820.4 558.4,823.8 556.6,827.3 554.7,830.7 552.9,834.1 551.1,837.4 549.3,840.7 547.6,844.0 545.8,847.2 544.1,850.5 542.4,853.6 540.7,856.8 539.1,859.9 537.4,863.0 535.8,866.1 534.1,869.1 532.5,872.2" fill="none" stroke="#008000" stroke-opacity="0.8" stroke-width="2.08" stroke-dasharray="7.71 3.33"/>
<polyline points="698.3,679.9 695.5,685.1 692.7,690.2 690.0,695.3 687.3,700.3 684.6,705.2 682.0,710.1 679.5,714.8 676.9,719.6 674.5,724.2 672.0,728.8 669.6,733.3 667.2,737.8 664.9,742.2 662.5,746.6 660.3,750.9 658.0,755.1 655.8,759.3 653.6,763.5 651.4,767.6 649.3,771.6 647.2,775.6 645.1,779.6 643.1,783.5 641.0,787.4 639.0,791.2 637.1,795.0 635.1,798.7 633.2,802.4 631.3,806.1 629.4,809.7 627.5,813.3 625.7,816.9 623.9,820.4 622.1,823.8 620.3,827.3 618.5,830.7 616.8,834.1 615.1,837.4 613.4,840.7 611.7,844.0 610.0,847.2 608.4,850.5 606.7,853.6 605.1,856.8 603.5,859.9 601.9,863.0 600.4,866.1 598.8,869.1 597.3,872.2" fill="none" stroke="#008000" stroke-opacity="0.8" stroke-width="2.08" stroke-dasharray="7.71 3.33"/>
<polyline points="742.4,679.9 739.7,685.1 737.0,690.2 734.3,695.3 731.7,700.3 729.2,705.2 726.6,710.1 724.1,714.8 721.7,719.6 719.3,724.2 716.9,728.8 714.6,733.3 712.2,737.8 710.0,742.2 707.7,746.6 705.5,750.9 703.3,755.1 701.2,759.3 699.1,763.5 697.0,767.6 694.9,771.6 692.9,775.6 690.9,779.6 688.9,783.5 686.9,787.4 685.0,791.2 683.1,795.0 681.2,798.7 679.3,802.4 677.4,806.1 675.6,809.7 673.8,813.3 672.0,816.9 670.3,820.4 668.5,823.8 666.8,827.3 665.1,830.7 663.4,834.1 661.8,837.4 660.1,840.7 658.5,844.0 656.9,847.2 655.3,850.5 653.7,853.6 652.2,856.8 650.6,859.9 649.1,863.0 647.6,866.1 646.1,869.1 644.6,872.2" fill="none" stroke="#008000" stroke-opacity="0.8" stroke-width="2.08" stroke-dasharray="7.71 3.33"/>
<polyline points="555.6,64.6 521.0,120.0 468.6,173.4 380.0,227.4 276.2,280.8 238.5,333.0 252.3,382.6 262.8,400.0 284.6,441.0 301.3,469.2 316.7,500.0 332.0,539.7 339.7,559.0 351.3,582.0 361.1,600.0 370.5,617.6 380.0,638.8 390.5,664.6 400.0,683.4 408.1,695.2 427.0,714.0 436.3,725.7 449.2,743.4 458.6,757.5 466.9,768.0 467.3,772.8 461.0,775.8 452.8,779.1 448.8,782.6 452.8,788.0 456.8,794.0 454.0,797.4 449.7,802.1 452.3,806.1" fill="none" stroke="#ff0000" stroke-width="2.1" stroke-linejoin="round"/>
<polyline points="334.8,64.6 278.6,120.0 232.0,166.0 224.5,174.0 194.6,227.4 208.2,281.3 197.2,333.0 208.7,382.6 218.0,400.0 230.8,423.0 257.7,460.3 279.5,498.7 292.3,527.0 301.3,555.0 302.0,579.5 295.4,602.6 292.8,621.0 300.0,638.8 312.9,652.9 328.2,669.3 339.9,685.8 350.5,702.2 363.4,717.5 377.5,731.6 382.7,741.0 384.1,748.1 381.5,755.1 374.0,762.2 371.7,768.1 375.2,773.5 388.1,776.3 397.5,779.8 400.3,783.3 395.2,789.2 394.5,792.7 401.0,796.3 410.4,799.8 413.3,802.1 412.1,806.8" fill="none" stroke="#008000" stroke-width="2.1" stroke-linejoin="round"/>
<polyline points="452.8,806.8 447.3,802.5 441.7,798.2 436.1,793.9 430.5,789.5 424.9,785.0 421.7,775.7 418.3,766.3 414.7,757.0 410.9,747.6 407.0,738.3 402.8,728.9 398.5,719.6 393.9,710.2 389.2,700.9 384.2,691.5 379.0,682.2 373.7,672.8 368.1,663.5 362.3,654.1 356.3,644.8 350.2,635.4 343.9,626.1 337.4,616.8 330.7,607.4 324.0,598.1 317.0,588.7 310.0,579.4 302.9,570.0 295.7,560.7 288.4,551.3 281.1,542.0 273.8,532.6 266.4,523.3 259.0,513.9 251.6,504.6 244.3,495.2 237.0,485.9 229.7,476.5 222.5,467.2 215.4,457.8 208.3,448.5 201.3,439.2 194.3,429.8 187.5,420.5 180.8,411.1 174.1,401.8 167.6,392.4 161.2,383.1 154.8,373.7 148.6,364.4 142.5,355.0 136.5,345.7 130.6,336.3 124.8,327.0 119.1,317.6 113.6,308.3 108.1,298.9 102.8,289.6 97.5,280.3 92.4,270.9 87.4,261.6 82.5,252.2 77.7,242.9 73.0,233.5 68.5,224.2 64.0,214.8 59.6,205.5 55.4,196.1 51.2,186.8 47.2,177.4 43.2,168.1 39.4,158.7 35.7,149.4 32.0,140.0 28.5,130.7 25.1,121.4 21.7,112.0 18.5,102.7 15.3,93.3 12.3,84.0 9.3,74.6 6.5,65.3 3.7,55.9 1.1,46.6" fill="none" stroke="#002255" stroke-width="0.75"/>
<line x1="403.9" x2="446.2" y1="785" y2="785" stroke="#ffa500" stroke-width="3.8"/>
</g>
<path d="M612.4 67.2L579.9 55.4M579.9 55.4L580.6 40.9M584.0 56.8L584.6 42.4M588.0 58.3L588.7 43.8M592.1 59.8L592.8 45.3M596.1 61.3L596.5 54.0" fill="none" stroke="#002255" stroke-width="1.75" stroke-linecap="butt" stroke-linejoin="miter"/>
<path d="M612.4 120.8L579.6 109.7" fill="none" stroke="#002255" stroke-width="1.75" stroke-linecap="butt" stroke-linejoin="miter"/>
<polygon points="579.6,109.7 588.2,98.0 587.8,112.5" fill="#002255" stroke="#002255" stroke-width="0.8" stroke-linejoin="miter"/>
<path d="M612.4 174.2L579.8 162.6M592.0 167.0L592.3 159.7" fill="none" stroke="#002255" stroke-width="1.75" stroke-linecap="butt" stroke-linejoin="miter"/>
<polygon points="579.8,162.6 588.5,151.0 587.9,165.5" fill="#002255" stroke="#002255" stroke-width="0.8" stroke-linejoin="miter"/>
<path d="M612.4 227.0L580.5 213.7M592.4 218.7L593.8 204.2" fill="none" stroke="#002255" stroke-width="1.75" stroke-linecap="butt" stroke-linejoin="miter"/>
<polygon points="580.5,213.7 589.8,202.6 588.4,217.0" fill="#002255" stroke="#002255" stroke-width="0.8" stroke-linejoin="miter"/>
<path d="M612.4 280.6L581.8 264.5M593.3 270.6L595.8 256.3M597.1 272.6L599.7 258.3" fill="none" stroke="#002255" stroke-width="1.75" stroke-linecap="butt" stroke-linejoin="miter"/>
<polygon points="581.8,264.5 592.0,254.3 589.4,268.5" fill="#002255" stroke="#002255" stroke-width="0.8" stroke-linejoin="miter"/>
<path d="M612.4 333.5L582.7 315.7M593.9 322.4L597.3 308.3M597.6 324.6L601.0 310.5M601.3 326.8L603.0 319.8" fill="none" stroke="#002255" stroke-width="1.75" stroke-linecap="butt" stroke-linejoin="miter"/>
<polygon points="582.7,315.7 593.6,306.0 590.2,320.1" fill="#002255" stroke="#002255" stroke-width="0.8" stroke-linejoin="miter"/>
<path d="M612.4 382.2L583.3 363.5M594.2 370.5L598.0 356.6M597.8 372.9L601.7 358.9M601.5 375.2L603.4 368.2" fill="none" stroke="#002255" stroke-width="1.75" stroke-linecap="butt" stroke-linejoin="miter"/>
<polygon points="583.3,363.5 594.4,354.2 590.5,368.2" fill="#002255" stroke="#002255" stroke-width="0.8" stroke-linejoin="miter"/>
<path d="M612.4 425.5L583.2 407.0M594.1 413.9L597.9 399.9M597.8 416.2L601.6 402.2" fill="none" stroke="#002255" stroke-width="1.75" stroke-linecap="butt" stroke-linejoin="miter"/>
<polygon points="583.2,407.0 594.3,397.6 590.5,411.6" fill="#002255" stroke="#002255" stroke-width="0.8" stroke-linejoin="miter"/>
<path d="M612.4 464.3L583.9 444.7M594.6 452.1L598.8 438.2M598.1 454.5L600.3 447.6" fill="none" stroke="#002255" stroke-width="1.75" stroke-linecap="butt" stroke-linejoin="miter"/>
<polygon points="583.9,444.7 595.3,435.8 591.0,449.6" fill="#002255" stroke="#002255" stroke-width="0.8" stroke-linejoin="miter"/>
<path d="M612.4 498.5L583.5 479.4M594.4 486.6L598.4 472.6" fill="none" stroke="#002255" stroke-width="1.75" stroke-linecap="butt" stroke-linejoin="miter"/>
<polygon points="583.5,479.4 594.8,470.2 590.8,484.2" fill="#002255" stroke="#002255" stroke-width="0.8" stroke-linejoin="miter"/>
<path d="M612.4 528.3L582.5 510.9" fill="none" stroke="#002255" stroke-width="1.75" stroke-linecap="butt" stroke-linejoin="miter"/>
<polygon points="582.5,510.9 593.2,501.1 590.0,515.3" fill="#002255" stroke="#002255" stroke-width="0.8" stroke-linejoin="miter"/>
<path d="M612.4 556.0L582.1 539.4M582.1 539.4L584.9 525.2M585.8 541.5L588.7 527.2M589.6 543.5L592.5 529.3M593.4 545.6L596.3 531.4M597.2 547.7L598.7 540.6" fill="none" stroke="#002255" stroke-width="1.75" stroke-linecap="butt" stroke-linejoin="miter"/>
<path d="M612.4 580.1L581.3 564.9M581.3 564.9L583.5 550.5M585.2 566.8L587.4 552.4M589.1 568.7L591.3 554.3M593.0 570.6L595.2 556.2" fill="none" stroke="#002255" stroke-width="1.75" stroke-linecap="butt" stroke-linejoin="miter"/>
<path d="M612.4 601.8L581.4 586.5M581.4 586.5L583.6 572.2M585.3 588.4L587.5 574.1M589.1 590.3L591.4 576.0M593.0 592.2L594.1 585.1" fill="none" stroke="#002255" stroke-width="1.75" stroke-linecap="butt" stroke-linejoin="miter"/>
<path d="M612.4 639.4L581.8 623.2M581.8 623.2L584.5 609.0M585.6 625.2L588.3 611.0M589.5 627.3L592.1 613.0" fill="none" stroke="#002255" stroke-width="1.75" stroke-linecap="butt" stroke-linejoin="miter"/>
<path d="M612.4 670.6L580.9 656.2M580.9 656.2L582.8 641.8M584.9 658.0L586.7 643.6M588.8 659.8L589.7 652.6" fill="none" stroke="#002255" stroke-width="1.75" stroke-linecap="butt" stroke-linejoin="miter"/>
<path d="M612.4 695.8L579.1 686.4M579.1 686.4L578.7 671.9M583.3 687.6L582.9 673.1" fill="none" stroke="#002255" stroke-width="1.75" stroke-linecap="butt" stroke-linejoin="miter"/>
<path d="M612.4 716.7L577.8 716.7M577.8 716.7L573.5 702.9M582.1 716.7L580.0 709.8" fill="none" stroke="#002255" stroke-width="1.75" stroke-linecap="butt" stroke-linejoin="miter"/>
<path d="M612.4 735.1L579.7 746.3M579.7 746.3L571.1 734.6M583.8 744.9L579.5 739.0" fill="none" stroke="#002255" stroke-width="1.75" stroke-linecap="butt" stroke-linejoin="miter"/>
<path d="M612.4 750.3L580.4 763.5M580.4 763.5L571.1 752.4M584.4 761.9L579.8 756.3" fill="none" stroke="#002255" stroke-width="1.75" stroke-linecap="butt" stroke-linejoin="miter"/>
<path d="M612.4 763.1L584.4 783.5M584.4 783.5L572.8 774.8" fill="none" stroke="#002255" stroke-width="1.75" stroke-linecap="butt" stroke-linejoin="miter"/>
<path d="M612.4 773.5L587.6 797.6M592.2 793.1L585.9 789.6" fill="none" stroke="#002255" stroke-width="1.75" stroke-linecap="butt" stroke-linejoin="miter"/>
<path d="M612.4 782.5L643.1 766.6M637.4 769.6L642.5 774.8" fill="none" stroke="#002255" stroke-width="1.75" stroke-linecap="butt" stroke-linejoin="miter"/>
<path d="M612.4 790.0L647.0 788.2M647.0 788.2L652.0 801.8" fill="none" stroke="#002255" stroke-width="1.75" stroke-linecap="butt" stroke-linejoin="miter"/>
<path d="M612.4 791.4L646.8 787.5M646.8 787.5L652.6 800.8" fill="none" stroke="#002255" stroke-width="1.75" stroke-linecap="butt" stroke-linejoin="miter"/>
<path d="M612.4 796.2L646.0 787.8M639.7 789.3L643.4 795.5" fill="none" stroke="#002255" stroke-width="1.75" stroke-linecap="butt" stroke-linejoin="miter"/>
<path d="M612.4 801.3L644.7 788.9M638.6 791.2L643.1 796.9" fill="none" stroke="#002255" stroke-width="1.75" stroke-linecap="butt" stroke-linejoin="miter"/>
<path d="M612.4 806.1L642.7 789.4M637.0 792.5L642.3 797.5" fill="none" stroke="#002255" stroke-width="1.75" stroke-linecap="butt" stroke-linejoin="miter"/>
<path d="M72.4 63.7V871.5H612.8" fill="none" stroke="#002255" stroke-width="1.1"/>
<line x1="67.5" x2="72.4" y1="64.2" y2="64.2" stroke="#002255" stroke-width="1.1"/>
<text y="69.50" font-size="14.45" fill="#002255"><tspan x="35.71" textLength="26.48" lengthAdjust="spacingAndGlyphs">100</tspan></text>
<line x1="67.5" x2="72.4" y1="302.4" y2="302.4" stroke="#002255" stroke-width="1.1"/>
<text y="307.67" font-size="14.45" fill="#002255"><tspan x="35.71" textLength="26.48" lengthAdjust="spacingAndGlyphs">200</tspan></text>
<line x1="67.5" x2="72.4" y1="441.7" y2="441.7" stroke="#002255" stroke-width="1.1"/>
<text y="447.00" font-size="14.45" fill="#002255"><tspan x="35.71" textLength="26.48" lengthAdjust="spacingAndGlyphs">300</tspan></text>
<line x1="67.5" x2="72.4" y1="540.5" y2="540.5" stroke="#002255" stroke-width="1.1"/>
<text y="545.85" font-size="14.45" fill="#002255"><tspan x="35.71" textLength="26.48" lengthAdjust="spacingAndGlyphs">400</tspan></text>
<line x1="67.5" x2="72.4" y1="617.2" y2="617.2" stroke="#002255" stroke-width="1.1"/>
<text y="622.53" font-size="14.45" fill="#002255"><tspan x="35.71" textLength="26.48" lengthAdjust="spacingAndGlyphs">500</tspan></text>
<line x1="67.5" x2="72.4" y1="679.9" y2="679.9" stroke="#002255" stroke-width="1.1"/>
<text y="685.17" font-size="14.45" fill="#002255"><tspan x="35.71" textLength="26.48" lengthAdjust="spacingAndGlyphs">600</tspan></text>
<line x1="67.5" x2="72.4" y1="732.8" y2="732.8" stroke="#002255" stroke-width="1.1"/>
<text y="738.14" font-size="14.45" fill="#002255"><tspan x="35.71" textLength="26.48" lengthAdjust="spacingAndGlyphs">700</tspan></text>
<line x1="67.5" x2="72.4" y1="778.7" y2="778.7" stroke="#002255" stroke-width="1.1"/>
<text y="784.02" font-size="14.45" fill="#002255"><tspan x="35.71" textLength="26.48" lengthAdjust="spacingAndGlyphs">800</tspan></text>
<line x1="67.5" x2="72.4" y1="819.2" y2="819.2" stroke="#002255" stroke-width="1.1"/>
<text y="824.50" font-size="14.45" fill="#002255"><tspan x="35.71" textLength="26.48" lengthAdjust="spacingAndGlyphs">900</tspan></text>
<line x1="67.5" x2="72.4" y1="855.4" y2="855.4" stroke="#002255" stroke-width="1.1"/>
<text y="860.70" font-size="14.45" fill="#002255"><tspan x="26.87" textLength="35.31" lengthAdjust="spacingAndGlyphs">1000</tspan></text>
<line x1="121.5" x2="121.5" y1="871.5" y2="876.4" stroke="#002255" stroke-width="1.1"/>
<text y="892.00" font-size="14.45" fill="#002255"><tspan x="106.55" textLength="29.28" lengthAdjust="spacingAndGlyphs">−20</tspan></text>
<line x1="219.6" x2="219.6" y1="871.5" y2="876.4" stroke="#002255" stroke-width="1.1"/>
<text y="892.00" font-size="14.45" fill="#002255"><tspan x="204.71" textLength="29.28" lengthAdjust="spacingAndGlyphs">−10</tspan></text>
<line x1="317.8" x2="317.8" y1="871.5" y2="876.4" stroke="#002255" stroke-width="1.1"/>
<text y="892.00" font-size="14.45" fill="#002255"><tspan x="317.81" text-anchor="middle">0</tspan></text>
<line x1="416.0" x2="416.0" y1="871.5" y2="876.4" stroke="#002255" stroke-width="1.1"/>
<text y="892.00" font-size="14.45" fill="#002255"><tspan x="406.83" textLength="17.66" lengthAdjust="spacingAndGlyphs">10</tspan></text>
<line x1="514.1" x2="514.1" y1="871.5" y2="876.4" stroke="#002255" stroke-width="1.1"/>
<text y="892.00" font-size="14.45" fill="#002255"><tspan x="505.25" textLength="17.66" lengthAdjust="spacingAndGlyphs">20</tspan></text>
<line x1="612.3" x2="612.3" y1="871.5" y2="876.4" stroke="#002255" stroke-width="1.1"/>
<text y="892.00" font-size="14.45" fill="#002255"><tspan x="603.39" textLength="17.66" lengthAdjust="spacingAndGlyphs">30</tspan></text>
<text y="911.60" font-size="14.45" fill="#002255"><tspan x="283.60" textLength="90.55" lengthAdjust="spacingAndGlyphs">Temperature</tspan><tspan x="378.57" textLength="26.41" lengthAdjust="spacingAndGlyphs">(℃)</tspan></text>
<text y="469.20" font-size="14.45" fill="#002255" transform="rotate(-90 17.30 469.20)"><tspan x="-55.29" textLength="54.31" lengthAdjust="spacingAndGlyphs">Isobaric</tspan><tspan x="3.43" textLength="45.87" lengthAdjust="spacingAndGlyphs">Height</tspan><tspan x="53.70" textLength="36.49" lengthAdjust="spacingAndGlyphs">(hPa)</tspan></text>
<circle cx="297.25" cy="871.15" r="22" fill="#002255"/>
<path d="M283.8 871.5H297.4V849.2" fill="none" stroke="#ffffff" stroke-width="1.6"/>
<text y="834.60" font-size="14.45" fill="#002255"><tspan x="265.52" textLength="62.53" lengthAdjust="spacingAndGlyphs">Sun-MDT</tspan></text>
<text y="85.50" font-size="14.45" fill="#002255"><tspan x="100.54" textLength="25.15" lengthAdjust="spacingAndGlyphs">LCL</tspan><tspan x="130.09" textLength="50.54" lengthAdjust="spacingAndGlyphs">Height:</tspan></text>
<text y="85.50" font-size="14.45" fill="#002255"><tspan x="184.47" textLength="48.55" lengthAdjust="spacingAndGlyphs">1793.0</tspan><tspan x="244.19" text-anchor="middle">m</tspan></text>
<text y="103.55" font-size="14.45" fill="#002255"><tspan x="100.28" textLength="25.40" lengthAdjust="spacingAndGlyphs">LFC</tspan><tspan x="130.09" textLength="50.54" lengthAdjust="spacingAndGlyphs">Height:</tspan></text>
<text y="103.55" font-size="14.45" fill="#002255"><tspan x="184.74" textLength="26.09" lengthAdjust="spacingAndGlyphs">nan</tspan><tspan x="222.00" text-anchor="middle">m</tspan></text>
<text y="121.60" font-size="14.45" fill="#002255"><tspan x="139.36" textLength="41.75" lengthAdjust="spacingAndGlyphs">MLLR:</tspan></text>
<text y="121.60" font-size="14.45" fill="#002255"><tspan x="184.86" textLength="22.07" lengthAdjust="spacingAndGlyphs">7.4</tspan><tspan x="215.89" text-anchor="middle">K</tspan></text>
<text y="139.65" font-size="14.45" fill="#002255"><tspan x="121.59" textLength="59.31" lengthAdjust="spacingAndGlyphs">SBCAPE:</tspan></text>
<text y="139.65" font-size="14.45" fill="#002255"><tspan x="185.08" textLength="22.07" lengthAdjust="spacingAndGlyphs">0.0</tspan><tspan x="211.56" textLength="25.61" lengthAdjust="spacingAndGlyphs">J/kg</tspan></text>
<text y="157.70" font-size="14.45" fill="#002255"><tspan x="133.75" textLength="47.16" lengthAdjust="spacingAndGlyphs">SBCIN:</tspan></text>
<text y="157.70" font-size="14.45" fill="#002255"><tspan x="185.08" textLength="22.07" lengthAdjust="spacingAndGlyphs">0.0</tspan><tspan x="211.56" textLength="25.61" lengthAdjust="spacingAndGlyphs">J/kg</tspan></text>
<text y="175.75" font-size="14.45" fill="#002255"><tspan x="119.97" textLength="60.69" lengthAdjust="spacingAndGlyphs">MLCAPE:</tspan></text>
<text y="175.75" font-size="14.45" fill="#002255"><tspan x="185.08" textLength="22.07" lengthAdjust="spacingAndGlyphs">0.0</tspan><tspan x="211.56" textLength="25.61" lengthAdjust="spacingAndGlyphs">J/kg</tspan></text>
<text y="193.80" font-size="14.45" fill="#002255"><tspan x="132.13" textLength="48.54" lengthAdjust="spacingAndGlyphs">MLCIN:</tspan></text>
<text y="193.80" font-size="14.45" fill="#002255"><tspan x="185.08" textLength="22.07" lengthAdjust="spacingAndGlyphs">0.0</tspan><tspan x="211.56" textLength="25.61" lengthAdjust="spacingAndGlyphs">J/kg</tspan></text>
<text y="211.85" font-size="14.45" fill="#002255"><tspan x="117.54" textLength="63.11" lengthAdjust="spacingAndGlyphs">MUCAPE:</tspan></text>
<text y="211.85" font-size="14.45" fill="#002255"><tspan x="185.08" textLength="22.07" lengthAdjust="spacingAndGlyphs">0.0</tspan><tspan x="211.56" textLength="25.61" lengthAdjust="spacingAndGlyphs">J/kg</tspan></text>
<text y="229.90" font-size="14.45" fill="#002255"><tspan x="82.56" textLength="40.34" lengthAdjust="spacingAndGlyphs">Shear</tspan><tspan x="127.32" textLength="22.66" lengthAdjust="spacingAndGlyphs">0-1</tspan><tspan x="154.39" textLength="26.23" lengthAdjust="spacingAndGlyphs">km:</tspan></text>
<text y="229.90" font-size="14.45" fill="#002255"><tspan x="185.06" textLength="22.07" lengthAdjust="spacingAndGlyphs">8.7</tspan><tspan x="211.53" textLength="25.42" lengthAdjust="spacingAndGlyphs">m/s</tspan></text>
<text y="247.95" font-size="14.45" fill="#002255"><tspan x="82.56" textLength="40.34" lengthAdjust="spacingAndGlyphs">Shear</tspan><tspan x="127.32" textLength="22.66" lengthAdjust="spacingAndGlyphs">0-6</tspan><tspan x="154.39" textLength="26.23" lengthAdjust="spacingAndGlyphs">km:</tspan></text>
<text y="247.95" font-size="14.45" fill="#002255"><tspan x="184.98" textLength="30.89" lengthAdjust="spacingAndGlyphs">28.0</tspan><tspan x="220.29" textLength="25.42" lengthAdjust="spacingAndGlyphs">m/s</tspan></text>
<text y="266.00" font-size="14.45" fill="#002255"><tspan x="94.04" textLength="28.88" lengthAdjust="spacingAndGlyphs">SRH</tspan><tspan x="127.33" textLength="22.66" lengthAdjust="spacingAndGlyphs">0-1</tspan><tspan x="154.40" textLength="26.23" lengthAdjust="spacingAndGlyphs">km:</tspan></text>
<text y="266.00" font-size="14.45" fill="#002255"><tspan x="185.32" textLength="35.90" lengthAdjust="spacingAndGlyphs">-31.6</tspan><tspan x="225.63" textLength="36.54" lengthAdjust="spacingAndGlyphs">m²/s²</tspan></text>
<text y="284.05" font-size="14.45" fill="#002255"><tspan x="94.04" textLength="28.88" lengthAdjust="spacingAndGlyphs">SRH</tspan><tspan x="127.33" textLength="22.66" lengthAdjust="spacingAndGlyphs">0-3</tspan><tspan x="154.40" textLength="26.23" lengthAdjust="spacingAndGlyphs">km:</tspan></text>
<text y="284.05" font-size="14.45" fill="#002255"><tspan x="185.32" textLength="35.90" lengthAdjust="spacingAndGlyphs">-82.6</tspan><tspan x="225.63" textLength="36.54" lengthAdjust="spacingAndGlyphs">m²/s²</tspan></text>
<text y="20.50" font-size="26.00" fill="#002255"><tspan x="0.60" textLength="90.58" lengthAdjust="spacingAndGlyphs">Gillette</tspan><tspan x="107.07" textLength="93.52" lengthAdjust="spacingAndGlyphs">Airport,</tspan><tspan x="208.53" textLength="48.41" lengthAdjust="spacingAndGlyphs">WY;</tspan><tspan x="264.89" textLength="75.06" lengthAdjust="spacingAndGlyphs">Model</tspan><tspan x="347.90" textLength="49.06" lengthAdjust="spacingAndGlyphs">Run</tspan><tspan x="404.91" textLength="145.29" lengthAdjust="spacingAndGlyphs">2026-04-05</tspan><tspan x="558.14" textLength="31.81" lengthAdjust="spacingAndGlyphs">12</tspan><tspan x="597.90" textLength="59.45" lengthAdjust="spacingAndGlyphs">UTC;</tspan><tspan x="665.29" textLength="56.47" lengthAdjust="spacingAndGlyphs">WRF</tspan><tspan x="729.71" textLength="97.01" lengthAdjust="spacingAndGlyphs">Domain</tspan><tspan x="834.67" textLength="31.81" lengthAdjust="spacingAndGlyphs">02</tspan></text>
<text y="55.60" font-size="21.66" fill="#002255"><tspan x="122.97" textLength="121.32" lengthAdjust="spacingAndGlyphs">2026-04-06</tspan><tspan x="250.92" textLength="26.56" lengthAdjust="spacingAndGlyphs">03</tspan><tspan x="284.12" textLength="42.61" lengthAdjust="spacingAndGlyphs">UTC</tspan><tspan x="340.00" textLength="129.46" lengthAdjust="spacingAndGlyphs">(2026-04-05</tspan><tspan x="476.09" textLength="26.56" lengthAdjust="spacingAndGlyphs">21</tspan><tspan x="509.29" textLength="54.98" lengthAdjust="spacingAndGlyphs">MDT)</tspan></text>
<g clip-path="url(#hod)">
<circle cx="792.5" cy="176.9" r="23.6" fill="none" stroke="#808080" stroke-width="1.39" stroke-dasharray="5.14 2.22"/>
<circle cx="792.5" cy="176.9" r="47.2" fill="none" stroke="#808080" stroke-width="1.39" stroke-dasharray="5.14 2.22"/>
<circle cx="792.5" cy="176.9" r="70.9" fill="none" stroke="#808080" stroke-width="1.39" stroke-dasharray="5.14 2.22"/>
<circle cx="792.5" cy="176.9" r="94.5" fill="none" stroke="#808080" stroke-width="1.39" stroke-dasharray="5.14 2.22"/>
<circle cx="792.5" cy="176.9" r="118.1" fill="none" stroke="#808080" stroke-width="1.39" stroke-dasharray="5.14 2.22"/>
<line x1="698.5" x2="887.5" y1="176.9" y2="176.9" stroke="#808080" stroke-width="2.08" stroke-dasharray="7.71 3.33"/>
<line x1="792.5" x2="792.5" y1="82.3" y2="271.3" stroke="#808080" stroke-width="2.08" stroke-dasharray="7.71 3.33"/>
<line x1="774.5" y1="180.6" x2="775.2" y2="180.2" stroke="#000080" stroke-width="3.9" stroke-linecap="round"/>
<line x1="775.2" y1="180.2" x2="776.0" y2="179.8" stroke="#000080" stroke-width="3.9" stroke-linecap="round"/>
<line x1="776.0" y1="179.8" x2="776.8" y2="179.4" stroke="#000080" stroke-width="3.9" stroke-linecap="round"/>
<line x1="776.8" y1="179.4" x2="777.5" y2="179.0" stroke="#000084" stroke-width="3.9" stroke-linecap="round"/>
<line x1="777.5" y1="179.0" x2="777.0" y2="179.8" stroke="#000084" stroke-width="3.9" stroke-linecap="round"/>
<line x1="777.0" y1="179.8" x2="776.5" y2="180.6" stroke="#000084" stroke-width="3.9" stroke-linecap="round"/>
<line x1="776.5" y1="180.6" x2="776.0" y2="181.4" stroke="#000089" stroke-width="3.9" stroke-linecap="round"/>
<line x1="776.0" y1="181.4" x2="775.5" y2="182.2" stroke="#000089" stroke-width="3.9" stroke-linecap="round"/>
<line x1="775.5" y1="182.2" x2="776.2" y2="181.5" stroke="#000089" stroke-width="3.9" stroke-linecap="round"/>
<line x1="776.2" y1="181.5" x2="777.0" y2="180.8" stroke="#00008d" stroke-width="3.9" stroke-linecap="round"/>
<line x1="777.0" y1="180.8" x2="777.8" y2="180.0" stroke="#00008d" stroke-width="3.9" stroke-linecap="round"/>
<line x1="777.8" y1="180.0" x2="778.5" y2="179.3" stroke="#00008d" stroke-width="3.9" stroke-linecap="round"/>
<line x1="778.5" y1="179.3" x2="778.0" y2="180.1" stroke="#000092" stroke-width="3.9" stroke-linecap="round"/>
<line x1="778.0" y1="180.1" x2="777.5" y2="180.8" stroke="#000092" stroke-width="3.9" stroke-linecap="round"/>
<line x1="777.5" y1="180.8" x2="777.0" y2="181.6" stroke="#000092" stroke-width="3.9" stroke-linecap="round"/>
<line x1="777.0" y1="181.6" x2="776.5" y2="182.3" stroke="#000092" stroke-width="3.9" stroke-linecap="round"/>
<line x1="776.5" y1="182.3" x2="777.2" y2="181.7" stroke="#000096" stroke-width="3.9" stroke-linecap="round"/>
<line x1="777.2" y1="181.7" x2="778.0" y2="181.2" stroke="#000096" stroke-width="3.9" stroke-linecap="round"/>
<line x1="778.0" y1="181.2" x2="778.8" y2="180.6" stroke="#000096" stroke-width="3.9" stroke-linecap="round"/>
<line x1="778.8" y1="180.6" x2="779.5" y2="180.0" stroke="#00009b" stroke-width="3.9" stroke-linecap="round"/>
<line x1="779.5" y1="180.0" x2="779.1" y2="180.5" stroke="#00009b" stroke-width="3.9" stroke-linecap="round"/>
<line x1="779.1" y1="180.5" x2="778.8" y2="181.0" stroke="#00009b" stroke-width="3.9" stroke-linecap="round"/>
<line x1="778.8" y1="181.0" x2="778.4" y2="181.5" stroke="#00009f" stroke-width="3.9" stroke-linecap="round"/>
<line x1="778.4" y1="181.5" x2="778.0" y2="182.0" stroke="#00009f" stroke-width="3.9" stroke-linecap="round"/>
<line x1="778.0" y1="182.0" x2="778.6" y2="181.7" stroke="#00009f" stroke-width="3.9" stroke-linecap="round"/>
<line x1="778.6" y1="181.7" x2="779.2" y2="181.3" stroke="#0000a4" stroke-width="3.9" stroke-linecap="round"/>
<line x1="779.2" y1="181.3" x2="779.9" y2="180.9" stroke="#0000a4" stroke-width="3.9" stroke-linecap="round"/>
<line x1="779.9" y1="180.9" x2="780.5" y2="180.6" stroke="#0000a4" stroke-width="3.9" stroke-linecap="round"/>
<line x1="780.5" y1="180.6" x2="781.1" y2="180.6" stroke="#0000a8" stroke-width="3.9" stroke-linecap="round"/>
<line x1="781.1" y1="180.6" x2="781.8" y2="180.6" stroke="#0000a8" stroke-width="3.9" stroke-linecap="round"/>
<line x1="781.8" y1="180.6" x2="782.4" y2="180.5" stroke="#0000ad" stroke-width="3.9" stroke-linecap="round"/>
<line x1="782.4" y1="180.5" x2="783.0" y2="180.5" stroke="#0000b2" stroke-width="3.9" stroke-linecap="round"/>
<line x1="783.0" y1="180.5" x2="784.6" y2="180.1" stroke="#0000b6" stroke-width="3.9" stroke-linecap="round"/>
<line x1="784.6" y1="180.1" x2="786.3" y2="179.6" stroke="#0000bb" stroke-width="3.9" stroke-linecap="round"/>
<line x1="786.3" y1="179.6" x2="788.0" y2="179.1" stroke="#0000c4" stroke-width="3.9" stroke-linecap="round"/>
<line x1="788.0" y1="179.1" x2="789.6" y2="178.7" stroke="#0000cd" stroke-width="3.9" stroke-linecap="round"/>
<line x1="789.6" y1="178.7" x2="790.7" y2="177.8" stroke="#0000d1" stroke-width="3.9" stroke-linecap="round"/>
<line x1="790.7" y1="177.8" x2="791.8" y2="176.8" stroke="#0000d6" stroke-width="3.9" stroke-linecap="round"/>
<line x1="791.8" y1="176.8" x2="792.9" y2="175.9" stroke="#0000df" stroke-width="3.9" stroke-linecap="round"/>
<line x1="792.9" y1="175.9" x2="794.0" y2="175.0" stroke="#0000e3" stroke-width="3.9" stroke-linecap="round"/>
<line x1="794.0" y1="175.0" x2="795.5" y2="173.6" stroke="#0000e8" stroke-width="3.9" stroke-linecap="round"/>
<line x1="795.5" y1="173.6" x2="796.9" y2="172.2" stroke="#0000ed" stroke-width="3.9" stroke-linecap="round"/>
<line x1="796.9" y1="172.2" x2="798.3" y2="170.7" stroke="#0000f6" stroke-width="3.9" stroke-linecap="round"/>
<line x1="798.3" y1="170.7" x2="799.8" y2="169.3" stroke="#0000fa" stroke-width="3.9" stroke-linecap="round"/>
<line x1="799.8" y1="169.3" x2="801.1" y2="169.4" stroke="#0000ff" stroke-width="3.9" stroke-linecap="round"/>
<line x1="801.1" y1="169.4" x2="802.4" y2="169.6" stroke="#0000ff" stroke-width="3.9" stroke-linecap="round"/>
<line x1="802.4" y1="169.6" x2="803.7" y2="169.7" stroke="#0000ff" stroke-width="3.9" stroke-linecap="round"/>
<line x1="803.7" y1="169.7" x2="805.0" y2="169.8" stroke="#0001ff" stroke-width="3.9" stroke-linecap="round"/>
<line x1="805.0" y1="169.8" x2="806.5" y2="170.0" stroke="#0004ff" stroke-width="3.9" stroke-linecap="round"/>
<line x1="806.5" y1="170.0" x2="808.0" y2="170.2" stroke="#000dff" stroke-width="3.9" stroke-linecap="round"/>
<line x1="808.0" y1="170.2" x2="809.4" y2="170.3" stroke="#0011ff" stroke-width="3.9" stroke-linecap="round"/>
<line x1="809.4" y1="170.3" x2="810.9" y2="170.5" stroke="#0014ff" stroke-width="3.9" stroke-linecap="round"/>
<line x1="810.9" y1="170.5" x2="811.0" y2="171.5" stroke="#001dff" stroke-width="3.9" stroke-linecap="round"/>
<line x1="811.0" y1="171.5" x2="811.1" y2="172.5" stroke="#0024ff" stroke-width="3.9" stroke-linecap="round"/>
<line x1="811.1" y1="172.5" x2="811.2" y2="173.5" stroke="#002dff" stroke-width="3.9" stroke-linecap="round"/>
<line x1="811.2" y1="173.5" x2="811.3" y2="174.5" stroke="#0034ff" stroke-width="3.9" stroke-linecap="round"/>
<line x1="811.3" y1="174.5" x2="811.2" y2="175.6" stroke="#003dff" stroke-width="3.9" stroke-linecap="round"/>
<line x1="811.2" y1="175.6" x2="811.1" y2="176.6" stroke="#0041ff" stroke-width="3.9" stroke-linecap="round"/>
<line x1="811.1" y1="176.6" x2="811.0" y2="177.6" stroke="#0049ff" stroke-width="3.9" stroke-linecap="round"/>
<line x1="811.0" y1="177.6" x2="810.9" y2="178.7" stroke="#0051ff" stroke-width="3.9" stroke-linecap="round"/>
<line x1="810.9" y1="178.7" x2="811.3" y2="179.5" stroke="#0059ff" stroke-width="3.9" stroke-linecap="round"/>
<line x1="811.3" y1="179.5" x2="811.7" y2="180.3" stroke="#005dff" stroke-width="3.9" stroke-linecap="round"/>
<line x1="811.7" y1="180.3" x2="812.1" y2="181.2" stroke="#0061ff" stroke-width="3.9" stroke-linecap="round"/>
<line x1="812.1" y1="181.2" x2="812.5" y2="182.0" stroke="#0069ff" stroke-width="3.9" stroke-linecap="round"/>
<line x1="812.5" y1="182.0" x2="813.2" y2="182.7" stroke="#006dff" stroke-width="3.9" stroke-linecap="round"/>
<line x1="813.2" y1="182.7" x2="813.9" y2="183.3" stroke="#0074ff" stroke-width="3.9" stroke-linecap="round"/>
<line x1="813.9" y1="183.3" x2="814.5" y2="184.0" stroke="#007dff" stroke-width="3.9" stroke-linecap="round"/>
<line x1="814.5" y1="184.0" x2="815.2" y2="184.7" stroke="#0085ff" stroke-width="3.9" stroke-linecap="round"/>
<line x1="815.2" y1="184.7" x2="816.3" y2="185.9" stroke="#008dff" stroke-width="3.9" stroke-linecap="round"/>
<line x1="816.3" y1="185.9" x2="817.4" y2="187.1" stroke="#0099ff" stroke-width="3.9" stroke-linecap="round"/>
<line x1="817.4" y1="187.1" x2="818.4" y2="188.3" stroke="#00a1ff" stroke-width="3.9" stroke-linecap="round"/>
<line x1="818.4" y1="188.3" x2="819.5" y2="189.5" stroke="#00adff" stroke-width="3.9" stroke-linecap="round"/>
<line x1="819.5" y1="189.5" x2="820.6" y2="190.7" stroke="#00b9ff" stroke-width="3.9" stroke-linecap="round"/>
<line x1="820.6" y1="190.7" x2="821.6" y2="191.8" stroke="#00c5ff" stroke-width="3.9" stroke-linecap="round"/>
<line x1="821.6" y1="191.8" x2="822.7" y2="192.9" stroke="#00d1ff" stroke-width="3.9" stroke-linecap="round"/>
<line x1="822.7" y1="192.9" x2="823.8" y2="194.1" stroke="#00e1fb" stroke-width="3.9" stroke-linecap="round"/>
<line x1="823.8" y1="194.1" x2="824.8" y2="194.5" stroke="#06edf1" stroke-width="3.9" stroke-linecap="round"/>
<line x1="824.8" y1="194.5" x2="825.9" y2="194.8" stroke="#0ff9e7" stroke-width="3.9" stroke-linecap="round"/>
<line x1="825.9" y1="194.8" x2="827.0" y2="195.2" stroke="#19ffde" stroke-width="3.9" stroke-linecap="round"/>
<line x1="827.0" y1="195.2" x2="828.0" y2="195.6" stroke="#23ffd4" stroke-width="3.9" stroke-linecap="round"/>
<line x1="828.0" y1="195.6" x2="829.1" y2="195.9" stroke="#30ffc7" stroke-width="3.9" stroke-linecap="round"/>
<line x1="829.1" y1="195.9" x2="830.1" y2="196.1" stroke="#39ffbe" stroke-width="3.9" stroke-linecap="round"/>
<line x1="830.1" y1="196.1" x2="831.2" y2="196.4" stroke="#43ffb4" stroke-width="3.9" stroke-linecap="round"/>
<line x1="831.2" y1="196.4" x2="832.3" y2="196.7" stroke="#4dffaa" stroke-width="3.9" stroke-linecap="round"/>
<line x1="832.3" y1="196.7" x2="833.3" y2="197.3" stroke="#5aff9d" stroke-width="3.9" stroke-linecap="round"/>
<line x1="833.3" y1="197.3" x2="834.4" y2="197.8" stroke="#63ff94" stroke-width="3.9" stroke-linecap="round"/>
<line x1="834.4" y1="197.8" x2="835.5" y2="198.4" stroke="#70ff87" stroke-width="3.9" stroke-linecap="round"/>
<line x1="835.5" y1="198.4" x2="836.5" y2="199.0" stroke="#7dff7a" stroke-width="3.9" stroke-linecap="round"/>
<line x1="836.5" y1="199.0" x2="837.6" y2="199.7" stroke="#87ff70" stroke-width="3.9" stroke-linecap="round"/>
<line x1="837.6" y1="199.7" x2="838.7" y2="200.4" stroke="#90ff66" stroke-width="3.9" stroke-linecap="round"/>
<line x1="838.7" y1="200.4" x2="839.8" y2="201.1" stroke="#97ff60" stroke-width="3.9" stroke-linecap="round"/>
<line x1="839.8" y1="201.1" x2="840.9" y2="201.8" stroke="#a0ff56" stroke-width="3.9" stroke-linecap="round"/>
<line x1="840.9" y1="201.8" x2="841.9" y2="203.2" stroke="#aaff4d" stroke-width="3.9" stroke-linecap="round"/>
<line x1="841.9" y1="203.2" x2="843.0" y2="204.7" stroke="#b1ff46" stroke-width="3.9" stroke-linecap="round"/>
<line x1="843.0" y1="204.7" x2="844.0" y2="206.1" stroke="#baff3c" stroke-width="3.9" stroke-linecap="round"/>
<line x1="844.0" y1="206.1" x2="845.0" y2="207.5" stroke="#c1ff36" stroke-width="3.9" stroke-linecap="round"/>
<line x1="845.0" y1="207.5" x2="846.1" y2="209.1" stroke="#caff2c" stroke-width="3.9" stroke-linecap="round"/>
<line x1="846.1" y1="209.1" x2="847.2" y2="210.7" stroke="#d1ff26" stroke-width="3.9" stroke-linecap="round"/>
<line x1="847.2" y1="210.7" x2="848.3" y2="212.2" stroke="#dbff1c" stroke-width="3.9" stroke-linecap="round"/>
<line x1="848.3" y1="212.2" x2="849.4" y2="213.8" stroke="#e4ff13" stroke-width="3.9" stroke-linecap="round"/>
<line x1="849.4" y1="213.8" x2="850.4" y2="214.7" stroke="#ebff0c" stroke-width="3.9" stroke-linecap="round"/>
<line x1="850.4" y1="214.7" x2="851.5" y2="215.7" stroke="#f8f500" stroke-width="3.9" stroke-linecap="round"/>
<line x1="851.5" y1="215.7" x2="852.5" y2="216.6" stroke="#ffea00" stroke-width="3.9" stroke-linecap="round"/>
<line x1="852.5" y1="216.6" x2="853.5" y2="217.5" stroke="#ffde00" stroke-width="3.9" stroke-linecap="round"/>
<line x1="853.5" y1="217.5" x2="854.6" y2="218.3" stroke="#ffd300" stroke-width="3.9" stroke-linecap="round"/>
<line x1="854.6" y1="218.3" x2="855.8" y2="219.1" stroke="#ffc800" stroke-width="3.9" stroke-linecap="round"/>
<line x1="855.8" y1="219.1" x2="856.9" y2="219.8" stroke="#ffb900" stroke-width="3.9" stroke-linecap="round"/>
<line x1="856.9" y1="219.8" x2="858.0" y2="220.6" stroke="#ffae00" stroke-width="3.9" stroke-linecap="round"/>
<line x1="858.0" y1="220.6" x2="859.2" y2="221.1" stroke="#ffa300" stroke-width="3.9" stroke-linecap="round"/>
<line x1="859.2" y1="221.1" x2="860.5" y2="221.6" stroke="#ff9400" stroke-width="3.9" stroke-linecap="round"/>
<line x1="860.5" y1="221.6" x2="861.8" y2="222.1" stroke="#ff8600" stroke-width="3.9" stroke-linecap="round"/>
<line x1="861.8" y1="222.1" x2="863.0" y2="222.6" stroke="#ff7700" stroke-width="3.9" stroke-linecap="round"/>
<line x1="863.0" y1="222.6" x2="864.0" y2="222.8" stroke="#ff6800" stroke-width="3.9" stroke-linecap="round"/>
<line x1="864.0" y1="222.8" x2="865.0" y2="223.1" stroke="#ff5900" stroke-width="3.9" stroke-linecap="round"/>
<line x1="865.0" y1="223.1" x2="866.0" y2="223.3" stroke="#ff4e00" stroke-width="3.9" stroke-linecap="round"/>
<line x1="866.0" y1="223.3" x2="867.0" y2="223.6" stroke="#ff3f00" stroke-width="3.9" stroke-linecap="round"/>
<line x1="867.0" y1="223.6" x2="867.5" y2="223.7" stroke="#ff3400" stroke-width="3.9" stroke-linecap="round"/>
<line x1="867.5" y1="223.7" x2="868.0" y2="223.8" stroke="#ff2900" stroke-width="3.9" stroke-linecap="round"/>
<line x1="868.0" y1="223.8" x2="868.5" y2="223.9" stroke="#ff1e00" stroke-width="3.9" stroke-linecap="round"/>
<line x1="868.5" y1="223.9" x2="869.0" y2="224.0" stroke="#ff1600" stroke-width="3.9" stroke-linecap="round"/>
</g>
<rect x="698.5" y="268.3" width="78.5" height="2.8" fill="#002255"/>
<path d="M698.5 81.8V271.3H888.0" fill="none" stroke="#002255" stroke-width="1.1"/>
<line x1="698.0" x2="698.0" y1="271.3" y2="276.2" stroke="#002255" stroke-width="1.1"/>
<line x1="693.6" x2="698.5" y1="271.4" y2="271.4" stroke="#002255" stroke-width="1.1"/>
<text y="292.00" font-size="14.45" fill="#002255"><tspan x="683.07" textLength="29.28" lengthAdjust="spacingAndGlyphs">−40</tspan></text>
<text y="276.70" font-size="14.45" fill="#002255"><tspan x="658.31" textLength="29.28" lengthAdjust="spacingAndGlyphs">−40</tspan></text>
<line x1="745.2" x2="745.2" y1="271.3" y2="276.2" stroke="#002255" stroke-width="1.1"/>
<line x1="693.6" x2="698.5" y1="224.2" y2="224.2" stroke="#002255" stroke-width="1.1"/>
<text y="292.00" font-size="14.45" fill="#002255"><tspan x="730.32" textLength="29.28" lengthAdjust="spacingAndGlyphs">−20</tspan></text>
<text y="229.45" font-size="14.45" fill="#002255"><tspan x="658.31" textLength="29.28" lengthAdjust="spacingAndGlyphs">−20</tspan></text>
<line x1="792.5" x2="792.5" y1="271.3" y2="276.2" stroke="#002255" stroke-width="1.1"/>
<line x1="693.6" x2="698.5" y1="176.9" y2="176.9" stroke="#002255" stroke-width="1.1"/>
<text y="292.00" font-size="14.45" fill="#002255"><tspan x="792.50" text-anchor="middle">0</tspan></text>
<text y="182.20" font-size="14.45" fill="#002255"><tspan x="683.20" text-anchor="middle">0</tspan></text>
<line x1="839.8" x2="839.8" y1="271.3" y2="276.2" stroke="#002255" stroke-width="1.1"/>
<line x1="693.6" x2="698.5" y1="129.7" y2="129.7" stroke="#002255" stroke-width="1.1"/>
<text y="292.00" font-size="14.45" fill="#002255"><tspan x="830.86" textLength="17.66" lengthAdjust="spacingAndGlyphs">20</tspan></text>
<text y="134.95" font-size="14.45" fill="#002255"><tspan x="669.95" textLength="17.66" lengthAdjust="spacingAndGlyphs">20</tspan></text>
<line x1="887.0" x2="887.0" y1="271.3" y2="276.2" stroke="#002255" stroke-width="1.1"/>
<line x1="693.6" x2="698.5" y1="82.4" y2="82.4" stroke="#002255" stroke-width="1.1"/>
<text y="292.00" font-size="14.45" fill="#002255"><tspan x="878.28" textLength="17.66" lengthAdjust="spacingAndGlyphs">40</tspan></text>
<text y="87.70" font-size="14.45" fill="#002255"><tspan x="669.95" textLength="17.66" lengthAdjust="spacingAndGlyphs">40</tspan></text>
<g>
<text y="306.30" font-size="14.45" fill="#002255"><tspan x="765.12" text-anchor="middle">u</tspan><tspan x="773.93" textLength="18.93" lengthAdjust="spacingAndGlyphs">(m</tspan><tspan x="800.88" text-anchor="middle">s</tspan></text>
<text y="301.30" font-size="10.11" fill="#002255"><tspan x="804.49" textLength="14.37" lengthAdjust="spacingAndGlyphs">−1</tspan></text>
<text y="306.30" font-size="14.45" fill="#002255"><tspan x="821.57" text-anchor="middle">)</tspan></text>
</g>
<g transform="rotate(-90 655.50 176.50)">
<text y="176.50" font-size="14.45" fill="#002255"><tspan x="628.12" text-anchor="middle">v</tspan><tspan x="636.63" textLength="18.93" lengthAdjust="spacingAndGlyphs">(m</tspan><tspan x="663.59" text-anchor="middle">s</tspan></text>
<text y="171.50" font-size="10.11" fill="#002255"><tspan x="667.20" textLength="14.37" lengthAdjust="spacingAndGlyphs">−1</tspan></text>
<text y="176.50" font-size="14.45" fill="#002255"><tspan x="684.28" text-anchor="middle">)</tspan></text>
</g>
<rect x="657.2" y="312.2" width="270.5" height="12.9" fill="url(#jet)" stroke="#002255" stroke-width="1.1"/>
<line x1="657.2" x2="657.2" y1="325.1" y2="330.0" stroke="#002255" stroke-width="1.1"/>
<text y="346.60" font-size="14.45" fill="#002255"><tspan x="657.20" text-anchor="middle">0</tspan></text>
<line x1="711.3" x2="711.3" y1="325.1" y2="330.0" stroke="#002255" stroke-width="1.1"/>
<text y="346.60" font-size="14.45" fill="#002255"><tspan x="711.48" text-anchor="middle">2</tspan></text>
<line x1="765.4" x2="765.4" y1="325.1" y2="330.0" stroke="#002255" stroke-width="1.1"/>
<text y="346.60" font-size="14.45" fill="#002255"><tspan x="765.45" text-anchor="middle">4</tspan></text>
<line x1="819.5" x2="819.5" y1="325.1" y2="330.0" stroke="#002255" stroke-width="1.1"/>
<text y="346.60" font-size="14.45" fill="#002255"><tspan x="819.45" text-anchor="middle">6</tspan></text>
<line x1="873.6" x2="873.6" y1="325.1" y2="330.0" stroke="#002255" stroke-width="1.1"/>
<text y="346.60" font-size="14.45" fill="#002255"><tspan x="873.60" text-anchor="middle">8</tspan></text>
<line x1="927.7" x2="927.7" y1="325.1" y2="330.0" stroke="#002255" stroke-width="1.1"/>
<text y="346.60" font-size="14.45" fill="#002255"><tspan x="918.56" textLength="17.66" lengthAdjust="spacingAndGlyphs">10</tspan></text>
<text y="365.60" font-size="14.45" fill="#002255"><tspan x="734.86" textLength="45.87" lengthAdjust="spacingAndGlyphs">Height</tspan><tspan x="785.13" textLength="26.96" lengthAdjust="spacingAndGlyphs">(km</tspan><tspan x="816.51" textLength="33.39" lengthAdjust="spacingAndGlyphs">AGL)</tspan></text>
</svg></body></html>
